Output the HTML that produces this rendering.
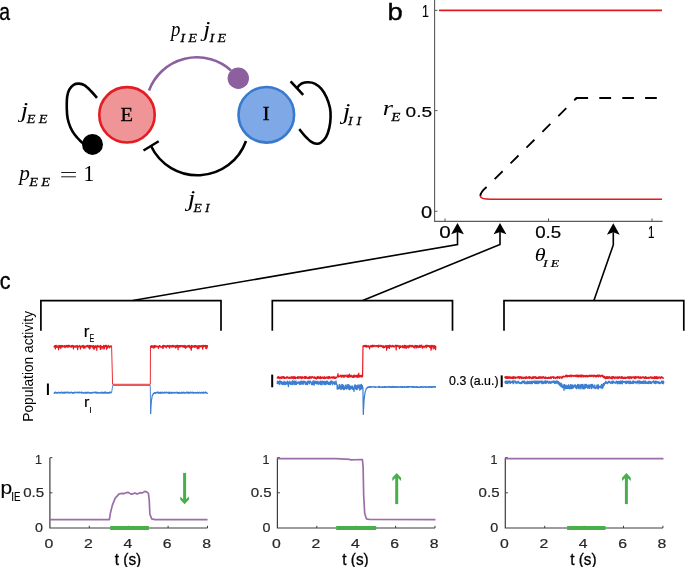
<!DOCTYPE html>
<html><head><meta charset="utf-8"><style>
html,body{margin:0;padding:0;background:#fff;}
svg{display:block;}


</style></head><body>
<svg style="will-change:transform" width="685" height="567" viewBox="0 0 685 567">
<text transform="matrix(0.8082 0 0 0.9736 -0.81 19.66)" style="font-family:'Liberation Sans',sans-serif;font-style:normal;font-size:24px" stroke="#000" stroke-width="0.35">a</text>
<text transform="matrix(1.1442 0 0 1.0197 387.58 20.15)" style="font-family:'Liberation Sans',sans-serif;font-style:normal;font-size:24px" stroke="#000" stroke-width="0.35">b</text>
<text transform="matrix(0.8976 0 0 0.9585 -0.20 289.36)" style="font-family:'Liberation Sans',sans-serif;font-style:normal;font-size:24px" stroke="#000" stroke-width="0.35">c</text>
<circle cx="127" cy="114.8" r="27.7" fill="#ef9597" stroke="#e31d23" stroke-width="2.6"/>
<circle cx="266.3" cy="114.8" r="27.8" fill="#7fa8e6" stroke="#3a7acd" stroke-width="2.6"/>
<text transform="matrix(1.1368 0 0 1.0298 120.43 120.70)" style="font-family:'Liberation Serif',serif;font-style:normal;font-size:18px" stroke="#000" stroke-width="0.25">E</text>
<text transform="matrix(1.2000 0 0 1.0128 262.50 119.80)" style="font-family:'Liberation Serif',serif;font-style:normal;font-size:18px" stroke="#000" stroke-width="0.25">I</text>
<path d="M149,90.5 A51,51 0 0 1 231,70.5" fill="none" stroke="#8c5f9f" stroke-width="2.6"/>
<circle cx="238.3" cy="78.2" r="10.7" fill="#8c5f9f"/>
<path d="M97.00,97.80 C95.98,96.67 92.95,93.07 90.90,91.00 C88.85,88.93 86.67,86.63 84.70,85.40 C82.73,84.17 80.95,83.70 79.10,83.60 C77.25,83.50 75.23,83.78 73.60,84.80 C71.97,85.82 70.37,87.75 69.30,89.70 C68.23,91.65 67.62,93.30 67.20,96.50 C66.78,99.70 66.72,105.20 66.80,108.90 C66.88,112.60 67.08,115.62 67.70,118.70 C68.32,121.78 69.32,124.72 70.50,127.40 C71.68,130.08 73.15,132.53 74.80,134.80 C76.45,137.07 78.87,139.47 80.40,141.00 C81.93,142.53 83.40,143.50 84.00,144.00" fill="none" stroke="#000" stroke-width="2.6"/>
<circle cx="92.5" cy="144.4" r="10.5" fill="#000"/>
<path d="M297.20,88.00 C297.48,87.60 298.07,86.40 298.90,85.60 C299.73,84.80 300.67,83.75 302.20,83.20 C303.73,82.65 306.02,82.23 308.10,82.30 C310.18,82.37 312.48,82.50 314.70,83.60 C316.92,84.70 319.42,86.58 321.40,88.90 C323.38,91.22 325.17,94.32 326.60,97.50 C328.03,100.68 329.33,104.70 330.00,108.00 C330.67,111.30 330.72,113.98 330.60,117.30 C330.48,120.62 330.07,124.60 329.30,127.90 C328.53,131.20 327.43,134.63 326.00,137.10 C324.57,139.57 322.25,141.60 320.70,142.70 C319.15,143.80 318.25,143.85 316.70,143.70 C315.15,143.55 313.38,143.12 311.40,141.80 C309.42,140.48 306.82,137.90 304.80,135.80 C302.78,133.70 300.22,130.30 299.30,129.20" fill="none" stroke="#000" stroke-width="2.6"/>
<path d="M290.6,81.3 L303.2,94.8" fill="none" stroke="#000" stroke-width="2.6"/>
<path d="M151,146 A51.5,51.5 0 0 0 246,141" fill="none" stroke="#000" stroke-width="2.6"/>
<path d="M143.5,150.5 L158.7,141.3" fill="none" stroke="#000" stroke-width="2.5"/>
<path d="M61.6,172.5 H75.5 M61.6,176.8 H75.5" stroke="#111" stroke-width="0.95" stroke-linecap="round"/>
<text transform="matrix(1.1515 0 0 0.9481 20.68 117.26)" style="font-family:'Liberation Serif',serif;font-style:italic;font-size:23px">j</text>
<text transform="matrix(1.2358 0 0 1.0267 26.81 123.00)" style="font-family:'Liberation Serif',serif;font-style:italic;font-size:11.5px;letter-spacing:2.6px" stroke="#000" stroke-width="0.25">EE</text>
<text transform="matrix(0.9250 0 0 0.9270 19.36 180.17)" style="font-family:'Liberation Serif',serif;font-style:italic;font-size:23px">p</text>
<text transform="matrix(1.2537 0 0 1.0400 29.31 185.90)" style="font-family:'Liberation Serif',serif;font-style:italic;font-size:11.5px;letter-spacing:2.6px" stroke="#000" stroke-width="0.25">EE</text>
<text transform="matrix(0.9697 0 0 1.0033 83.16 180.90)" style="font-family:'Liberation Serif',serif;font-style:normal;font-size:23px">1</text>
<text transform="matrix(0.8167 0 0 0.9333 170.92 35.53)" style="font-family:'Liberation Serif',serif;font-style:italic;font-size:23px">p</text>
<text transform="matrix(1.2528 0 0 1.0533 180.20 41.50)" style="font-family:'Liberation Serif',serif;font-style:italic;font-size:11.5px;letter-spacing:2.6px" stroke="#000" stroke-width="0.25">IE</text>
<text transform="matrix(1.0909 0 0 0.9333 203.33 35.53)" style="font-family:'Liberation Serif',serif;font-style:italic;font-size:23px">j</text>
<text transform="matrix(1.2151 0 0 1.0533 209.60 41.50)" style="font-family:'Liberation Serif',serif;font-style:italic;font-size:11.5px;letter-spacing:2.6px" stroke="#000" stroke-width="0.25">IE</text>
<text transform="matrix(1.1879 0 0 0.9630 342.87 118.99)" style="font-family:'Liberation Serif',serif;font-style:italic;font-size:23px">j</text>
<text transform="matrix(1.2000 0 0 1.1200 348.10 125.40)" style="font-family:'Liberation Serif',serif;font-style:italic;font-size:11.5px;letter-spacing:3.2px" stroke="#000" stroke-width="0.25">II</text>
<text transform="matrix(1.1758 0 0 0.9630 187.84 206.39)" style="font-family:'Liberation Serif',serif;font-style:italic;font-size:23px">j</text>
<text transform="matrix(1.1930 0 0 1.1200 193.40 212.40)" style="font-family:'Liberation Serif',serif;font-style:italic;font-size:11.5px;letter-spacing:2.6px" stroke="#000" stroke-width="0.25">EI</text>
<path d="M434.6,0 V221.4 H662.6" fill="none" stroke="#5a5a5a" stroke-width="1.1"/>
<path d="M434.6,10.4 H437.5" stroke="#5a5a5a" stroke-width="1"/>
<path d="M434.6,110.6 H437.5" stroke="#5a5a5a" stroke-width="1"/>
<path d="M434.6,211.3 H437.5" stroke="#5a5a5a" stroke-width="1"/>
<path d="M445,221.4 V218.4" stroke="#5a5a5a" stroke-width="1"/>
<path d="M548.5,221.4 V218.4" stroke="#5a5a5a" stroke-width="1"/>
<path d="M652,221.4 V218.4" stroke="#5a5a5a" stroke-width="1"/>
<text transform="matrix(0.7714 0 0 1.0364 421.94 16.90)" style="font-family:'Liberation Sans',sans-serif;font-style:normal;font-size:16px" stroke="#000" stroke-width="0.2">1</text>
<text transform="matrix(1.1905 0 0 0.9652 405.60 117.16)" style="font-family:'Liberation Sans',sans-serif;font-style:normal;font-size:16px" stroke="#000" stroke-width="0.2">0.5</text>
<text transform="matrix(1.2516 0 0 0.9913 421.07 217.85)" style="font-family:'Liberation Sans',sans-serif;font-style:normal;font-size:16px" stroke="#000" stroke-width="0.2">0</text>
<text transform="matrix(1.2903 0 0 1.0000 439.15 238.25)" style="font-family:'Liberation Sans',sans-serif;font-style:normal;font-size:16px" stroke="#000" stroke-width="0.2">0</text>
<text transform="matrix(1.1714 0 0 1.0087 535.21 238.15)" style="font-family:'Liberation Sans',sans-serif;font-style:normal;font-size:16px" stroke="#000" stroke-width="0.2">0.5</text>
<text transform="matrix(0.7286 0 0 1.0182 647.99 238.00)" style="font-family:'Liberation Sans',sans-serif;font-style:normal;font-size:16px" stroke="#000" stroke-width="0.2">1</text>
<text transform="matrix(1.3778 0 0 1.0778 382.67 115.20)" style="font-family:'Liberation Serif',serif;font-style:italic;font-size:19px">r</text>
<text transform="matrix(1.3000 0 0 1.0267 391.32 120.70)" style="font-family:'Liberation Serif',serif;font-style:italic;font-size:11.5px" stroke="#000" stroke-width="0.25">E</text>
<text transform="matrix(1.1625 0 0 1.0370 534.64 261.44)" style="font-family:'Liberation Serif',serif;font-style:italic;font-size:19px">θ</text>
<text transform="matrix(1.2392 0 0 0.9517 543.00 266.70)" style="font-family:'Liberation Serif',serif;font-style:italic;font-size:11px;letter-spacing:2.6px" stroke="#000" stroke-width="0.25">IE</text>
<path d="M439,10.4 H662" stroke="#e2191f" stroke-width="1.6"/>
<path d="M480.3,195.9 C480.3,198.3 483.5,199.2 491,199.2 H662" fill="none" stroke="#e2191f" stroke-width="1.6"/>
<path d="M480.3,195.9 C480.6,192.5 483.5,189.5 487,186.7 L576.6,98" fill="none" stroke="#000" stroke-width="1.8" stroke-dasharray="11.2 11.2"/>
<path d="M574.9,99.6 L576.6,98 H588.1 M599.3,98 H611.1 M622.3,98 H633.9 M645.1,98 H656.8" fill="none" stroke="#000" stroke-width="1.8"/>
<path d="M457.5,231.9 V244.5 L132.7,300.5" fill="none" stroke="#000" stroke-width="1.6" stroke-linejoin="miter"/><path d="M457.5,222.9 L463.9,234.3 L457.5,231.9 L451.1,234.3 Z" fill="#000"/>
<path d="M500,231.9 V244.5 L362.7,300.5" fill="none" stroke="#000" stroke-width="1.6" stroke-linejoin="miter"/><path d="M500,222.9 L506.4,234.3 L500,231.9 L493.6,234.3 Z" fill="#000"/>
<path d="M613.3,232.3 V244.9 L593.9,300.5" fill="none" stroke="#000" stroke-width="1.6" stroke-linejoin="miter"/><path d="M613.3,223.3 L619.6999999999999,234.70000000000002 L613.3,232.3 L606.9,234.70000000000002 Z" fill="#000"/>
<path d="M40.9,330.8 V300.6 H221 V330.8" fill="none" stroke="#000" stroke-width="1.7"/>
<path d="M272.3,330.8 V300.6 H452.5 V330.8" fill="none" stroke="#000" stroke-width="1.7"/>
<path d="M504,330.8 V300.6 H683.8 V330.8" fill="none" stroke="#000" stroke-width="1.7"/>
<text transform="translate(33,421.69) rotate(-90) scale(0.9481,0.9926)" style="font-family:'Liberation Sans',sans-serif;font-size:14.5px">Population activity</text>
<path d="M54.0,392.7 54.2,393.2 54.4,392.5 54.6,392.5 54.8,393.3 55.0,392.8 55.2,392.1 55.4,392.6 55.6,392.9 55.8,392.2 56.0,392.5 56.2,392.9 56.4,393.1 56.6,392.8 56.8,393.2 57.0,392.7 57.2,392.6 57.4,393.1 57.6,392.6 57.8,393.0 58.0,392.4 58.2,392.5 58.4,392.3 58.6,392.8 58.8,392.3 59.0,392.3 59.2,392.4 59.4,392.7 59.6,392.5 59.8,392.6 60.0,393.3 60.2,392.9 60.4,393.1 60.6,392.3 60.8,392.6 61.0,392.2 61.2,392.9 61.4,392.5 61.6,392.4 61.8,392.1 62.0,392.3 62.2,392.4 62.4,392.6 62.6,393.2 62.8,393.0 63.0,392.4 63.2,392.5 63.4,392.3 63.6,393.2 63.8,392.5 64.0,393.0 64.2,393.0 64.4,393.2 64.6,392.1 64.8,392.5 65.0,392.6 65.2,392.2 65.4,393.2 65.6,392.5 65.8,393.0 66.0,392.7 66.2,392.2 66.4,392.6 66.6,392.4 66.8,392.1 67.0,392.3 67.2,392.8 67.4,392.1 67.6,392.5 67.8,392.6 68.0,392.8 68.2,392.3 68.4,392.9 68.6,392.4 68.8,393.0 69.0,392.9 69.2,392.3 69.4,392.3 69.6,392.4 69.8,393.0 70.0,392.6 70.2,392.6 70.4,393.1 70.6,392.4 70.8,392.5 71.0,392.5 71.2,392.4 71.4,392.1 71.6,392.1 71.8,392.9 72.0,392.8 72.2,393.1 72.4,393.3 72.6,392.5 72.8,392.9 73.0,393.2 73.2,392.4 73.4,392.9 73.6,392.9 73.8,393.2 74.0,393.1 74.2,392.4 74.4,392.9 74.6,392.2 74.8,392.6 75.0,392.6 75.2,392.2 75.4,392.6 75.6,392.5 75.8,392.7 76.0,392.4 76.2,392.3 76.4,392.6 76.6,392.7 76.8,392.3 77.0,392.9 77.2,392.4 77.4,392.2 77.6,392.5 77.8,392.6 78.0,392.3 78.2,392.8 78.4,392.9 78.6,392.8 78.8,392.9 79.0,392.1 79.2,392.6 79.4,392.5 79.6,392.2 79.8,392.6 80.0,392.2 80.2,392.7 80.4,392.8 80.6,392.7 80.8,392.5 81.0,392.4 81.2,392.1 81.4,392.5 81.6,393.2 81.8,392.8 82.0,392.4 82.2,392.9 82.4,392.3 82.6,392.7 82.8,392.8 83.0,393.2 83.2,392.5 83.4,392.8 83.6,393.2 83.8,393.0 84.0,392.9 84.2,392.8 84.4,392.6 84.6,392.6 84.8,392.4 85.0,393.1 85.2,393.2 85.4,392.6 85.6,393.2 85.8,392.1 86.0,392.3 86.2,392.7 86.4,392.5 86.6,392.5 86.8,393.3 87.0,392.3 87.2,392.3 87.4,392.4 87.6,392.9 87.8,392.4 88.0,392.1 88.2,392.8 88.4,392.6 88.6,392.4 88.8,392.7 89.0,392.9 89.2,392.8 89.4,392.8 89.6,392.8 89.8,393.1 90.0,393.3 90.2,392.5 90.4,392.5 90.6,393.2 90.8,392.5 91.0,393.0 91.2,392.9 91.4,392.9 91.6,393.3 91.8,393.1 92.0,392.3 92.2,392.8 92.4,392.7 92.6,392.8 92.8,392.5 93.0,392.4 93.2,393.0 93.4,392.7 93.6,392.4 93.8,392.4 94.0,392.5 94.2,392.3 94.4,392.7 94.6,392.3 94.8,392.2 95.0,392.2 95.2,392.2 95.4,392.9 95.6,392.2 95.8,392.6 96.0,393.0 96.2,392.7 96.4,392.3 96.6,393.1 96.8,393.1 97.0,392.2 97.2,392.4 97.4,392.7 97.6,393.1 97.8,392.6 98.0,393.0 98.2,392.4 98.4,393.0 98.6,392.5 98.8,392.5 99.0,393.0 99.2,393.1 99.4,393.1 99.6,392.8 99.8,392.6 100.0,392.9 100.2,392.8 100.4,393.1 100.6,393.1 100.8,392.3 101.0,392.6 101.2,392.9 101.4,392.4 101.6,392.3 101.8,392.1 102.0,392.8 102.2,393.2 102.4,393.3 102.6,392.3 102.8,392.9 103.0,392.6 103.2,392.9 103.4,392.6 103.6,393.2 103.8,393.3 104.0,392.2 104.2,393.0 104.4,392.2 104.6,392.2 104.8,392.4 105.0,393.0 105.2,393.3 105.4,392.2 105.6,392.5 105.8,392.1 106.0,392.8 106.2,392.7 106.4,392.5 106.6,392.5 106.8,393.1 107.0,393.1 107.2,392.4 107.4,392.6 107.6,392.8 107.8,393.0 108.0,393.3 108.2,392.6 108.4,392.9 108.6,392.8 108.8,393.1 109.0,392.3 109.2,392.3 109.4,392.2 109.6,393.2 109.8,392.4 110.0,392.7 110.2,392.2 110.4,392.5 110.6,392.1 110.8,392.8 111.0,392.3 111.2,392.9 111.4,392.4 111.6,392.4" fill="none" stroke="#3b7dd0" stroke-width="1.2" stroke-linejoin="round" />
<path d="M111.6,392.7 112.7,385.5 150.3,385.5 150.6,414.0" fill="none" stroke="#3b7dd0" stroke-width="0.9" stroke-linejoin="round" />
<path d="M150.6,414.0 150.8,409.7 151.0,406.2 151.2,403.3 151.4,400.9 151.6,399.2 151.8,398.8 152.0,397.0 152.2,395.8 152.4,395.2 152.6,395.0 152.8,395.1 153.0,393.8 153.2,394.3 153.4,393.6 153.6,393.4 153.8,393.7 154.0,393.1 154.2,392.6 154.4,393.1 154.6,393.1 154.8,393.0 155.0,392.6 155.2,393.4 155.4,393.2 155.6,393.4 155.8,392.7 156.0,393.2 156.2,393.0 156.4,392.3 156.6,392.2 156.8,392.3 157.0,392.3 157.2,392.2 157.4,392.5 157.6,393.0 157.8,392.5 158.0,392.7 158.2,392.1 158.4,392.4 158.6,393.3 158.8,392.1 159.0,392.7 159.2,393.1 159.4,393.1 159.6,393.0 159.8,392.6 160.0,393.1 160.2,393.1 160.4,393.0 160.6,393.3 160.8,392.2 161.0,393.2 161.2,392.6 161.4,392.9 161.6,392.4 161.8,393.2 162.0,392.1 162.2,392.8 162.4,392.4 162.6,392.6 162.8,392.5 163.0,392.9 163.2,393.1 163.4,392.5 163.6,392.9 163.8,392.5 164.0,392.4 164.2,393.2 164.4,392.5 164.6,392.2 164.8,392.5 165.0,393.0 165.2,392.4 165.4,393.0 165.6,392.8 165.8,392.9 166.0,392.3 166.2,392.2 166.4,392.3 166.6,392.5 166.8,392.6 167.0,392.1 167.2,392.7 167.4,392.6 167.6,392.5 167.8,392.7 168.0,393.2 168.2,392.3 168.4,393.2 168.6,392.5 168.8,393.0 169.0,392.2 169.2,393.3 169.4,392.6 169.6,393.3 169.8,392.4 170.0,392.6 170.2,392.9 170.4,392.3 170.6,392.4 170.8,392.9 171.0,393.2 171.2,392.5 171.4,392.3 171.6,392.5 171.8,393.3 172.0,392.3 172.2,392.9 172.4,392.6 172.6,392.9 172.8,392.4 173.0,392.8 173.2,393.2 173.4,393.1 173.6,392.9 173.8,392.7 174.0,392.8 174.2,392.2 174.4,393.1 174.6,392.9 174.8,392.6 175.0,392.9 175.2,392.6 175.4,392.6 175.6,392.4 175.8,392.8 176.0,392.8 176.2,392.7 176.4,392.1 176.6,392.9 176.8,392.6 177.0,392.8 177.2,392.8 177.4,393.2 177.6,392.3 177.8,392.7 178.0,393.3 178.2,393.0 178.4,392.5 178.6,393.0 178.8,393.3 179.0,392.6 179.2,393.1 179.4,392.3 179.6,393.3 179.8,392.7 180.0,392.4 180.2,393.1 180.4,392.9 180.6,393.2 180.8,393.1 181.0,393.1 181.2,392.7 181.4,393.3 181.6,392.2 181.8,393.1 182.0,393.0 182.2,392.4 182.4,393.1 182.6,392.6 182.8,392.7 183.0,393.1 183.2,392.3 183.4,392.4 183.6,392.9 183.8,392.2 184.0,392.8 184.2,393.0 184.4,392.7 184.6,392.4 184.8,393.1 185.0,393.1 185.2,393.0 185.4,392.8 185.6,393.2 185.8,393.1 186.0,392.3 186.2,392.5 186.4,392.2 186.6,392.1 186.8,392.5 187.0,393.1 187.2,393.1 187.4,392.2 187.6,392.3 187.8,392.6 188.0,393.1 188.2,392.8 188.4,393.2 188.6,392.2 188.8,393.3 189.0,392.3 189.2,392.9 189.4,393.2 189.6,393.0 189.8,392.3 190.0,392.9 190.2,392.6 190.4,392.1 190.6,392.5 190.8,392.5 191.0,392.9 191.2,392.4 191.4,392.8 191.6,392.9 191.8,392.3 192.0,392.3 192.2,392.9 192.4,392.7 192.6,392.3 192.8,392.2 193.0,393.2 193.2,392.8 193.4,392.5 193.6,392.3 193.8,393.3 194.0,392.9 194.2,393.0 194.4,392.5 194.6,392.5 194.8,392.6 195.0,392.3 195.2,392.9 195.4,392.6 195.6,393.1 195.8,392.6 196.0,392.6 196.2,392.7 196.4,393.2 196.6,392.5 196.8,392.9 197.0,392.4 197.2,392.8 197.4,392.4 197.6,393.1 197.8,392.4 198.0,393.1 198.2,392.9 198.4,392.6 198.6,393.2 198.8,392.6 199.0,393.0 199.2,392.8 199.4,392.6 199.6,392.2 199.8,392.6 200.0,392.4 200.2,392.6 200.4,393.2 200.6,392.5 200.8,392.9 201.0,392.9 201.2,392.4 201.4,392.6 201.6,392.3 201.8,393.2 202.0,392.4 202.2,392.6 202.4,392.5 202.6,393.1 202.8,393.1 203.0,392.8 203.2,392.8 203.4,392.2 203.6,393.2 203.8,392.2 204.0,392.5 204.2,392.5 204.4,393.0 204.6,392.9 204.8,392.5 205.0,393.2 205.2,393.2 205.4,392.1 205.6,392.9 205.8,392.7 206.0,392.5 206.2,392.7 206.4,392.5 206.6,392.9 206.8,392.8 207.0,393.3 207.2,393.3 207.4,393.3 207.6,392.6" fill="none" stroke="#3b7dd0" stroke-width="1.2" stroke-linejoin="round" />
<path d="M54.0,346.2 54.2,347.1 54.4,346.3 54.6,345.7 54.8,346.5 55.0,345.5 55.2,345.5 55.4,348.9 55.6,347.1 55.8,346.5 56.0,345.3 56.2,345.4 56.4,347.3 56.6,346.1 56.8,346.3 57.0,346.2 57.2,346.2 57.4,347.2 57.6,346.9 57.8,345.9 58.0,347.8 58.2,346.1 58.4,346.0 58.6,349.8 58.8,347.0 59.0,347.2 59.2,345.4 59.4,346.8 59.6,345.5 59.8,347.1 60.0,345.5 60.2,347.5 60.4,345.6 60.6,346.2 60.8,348.5 61.0,345.5 61.2,345.7 61.4,347.1 61.6,345.9 61.8,345.7 62.0,346.9 62.2,345.5 62.4,345.7 62.6,346.8 62.8,346.8 63.0,346.4 63.2,346.4 63.4,346.2 63.6,346.2 63.8,346.9 64.0,345.6 64.2,346.9 64.4,345.7 64.6,347.1 64.8,347.1 65.0,346.4 65.2,347.7 65.4,345.8 65.6,345.8 65.8,346.4 66.0,345.6 66.2,345.4 66.4,346.4 66.6,346.5 66.8,347.0 67.0,345.3 67.2,347.2 67.4,346.0 67.6,345.5 67.8,347.0 68.0,346.5 68.2,347.3 68.4,345.3 68.6,346.6 68.8,345.3 69.0,346.2 69.2,345.9 69.4,345.4 69.6,346.7 69.8,346.7 70.0,346.8 70.2,346.0 70.4,347.0 70.6,346.1 70.8,346.9 71.0,346.5 71.2,346.4 71.4,345.5 71.6,347.2 71.8,346.7 72.0,346.7 72.2,346.1 72.4,345.5 72.6,345.4 72.8,346.2 73.0,346.6 73.2,346.5 73.4,348.9 73.6,346.6 73.8,345.6 74.0,346.6 74.2,347.0 74.4,346.6 74.6,346.1 74.8,347.0 75.0,346.0 75.2,347.4 75.4,346.9 75.6,346.7 75.8,345.8 76.0,346.2 76.2,345.7 76.4,346.5 76.6,345.9 76.8,347.2 77.0,347.6 77.2,345.4 77.4,346.4 77.6,349.6 77.8,348.2 78.0,346.6 78.2,346.5 78.4,346.5 78.6,346.8 78.8,346.6 79.0,346.2 79.2,345.3 79.4,346.7 79.6,345.8 79.8,346.6 80.0,346.5 80.2,346.0 80.4,349.2 80.6,348.2 80.8,346.5 81.0,346.0 81.2,347.0 81.4,347.1 81.6,346.5 81.8,346.7 82.0,346.5 82.2,345.7 82.4,347.2 82.6,346.3 82.8,345.9 83.0,346.9 83.2,345.5 83.4,346.3 83.6,348.2 83.8,345.4 84.0,345.6 84.2,347.8 84.4,346.3 84.6,346.9 84.8,347.1 85.0,348.2 85.2,346.3 85.4,346.7 85.6,346.3 85.8,346.4 86.0,346.0 86.2,347.0 86.4,346.9 86.6,346.3 86.8,345.7 87.0,346.3 87.2,345.4 87.4,346.3 87.6,346.8 87.8,346.2 88.0,345.4 88.2,346.1 88.4,347.1 88.6,347.6 88.8,346.8 89.0,346.2 89.2,345.7 89.4,349.0 89.6,345.3 89.8,345.7 90.0,345.9 90.2,348.4 90.4,345.5 90.6,345.8 90.8,346.3 91.0,346.0 91.2,346.3 91.4,345.7 91.6,346.5 91.8,346.9 92.0,346.9 92.2,346.7 92.4,347.0 92.6,345.9 92.8,345.7 93.0,348.1 93.2,346.7 93.4,345.5 93.6,346.1 93.8,345.5 94.0,349.5 94.2,346.6 94.4,348.7 94.6,346.7 94.8,346.6 95.0,346.3 95.2,346.3 95.4,347.5 95.6,345.7 95.8,347.2 96.0,347.7 96.2,346.2 96.4,345.9 96.6,346.3 96.8,350.3 97.0,346.9 97.2,346.2 97.4,346.1 97.6,345.6 97.8,345.3 98.0,346.8 98.2,346.9 98.4,346.1 98.6,346.3 98.8,346.8 99.0,347.0 99.2,346.8 99.4,346.1 99.6,347.0 99.8,346.8 100.0,346.1 100.2,345.4 100.4,349.4 100.6,346.5 100.8,345.7 101.0,346.6 101.2,346.6 101.4,346.3 101.6,347.2 101.8,346.6 102.0,348.9 102.2,346.7 102.4,347.2 102.6,347.2 102.8,347.0 103.0,346.3 103.2,346.4 103.4,346.5 103.6,345.4 103.8,348.9 104.0,345.6 104.2,345.6 104.4,348.7 104.6,346.1 104.8,346.4 105.0,345.8 105.2,346.4 105.4,346.7 105.6,345.3 105.8,345.4 106.0,346.7 106.2,347.0 106.4,345.4 106.6,349.3 106.8,346.1 107.0,347.1 107.2,346.3 107.4,346.7 107.6,347.2 107.8,348.2 108.0,346.2 108.2,345.4 108.4,345.5 108.6,346.6 108.8,345.8 109.0,346.1 109.2,346.3 109.4,347.1 109.6,347.9 109.8,346.8 110.0,346.0 110.2,346.6 110.4,346.4 110.6,346.7 110.8,345.8 111.0,347.0 111.2,346.6 111.4,346.1 111.6,345.5" fill="none" stroke="#e2191f" stroke-width="1.2" stroke-linejoin="round" />
<path d="M111.6,346.5 112.6,384.3 150.3,384.3 150.5,346.0" fill="none" stroke="#e2191f" stroke-width="0.9" stroke-linejoin="round" />
<path d="M150.7,347.3 150.9,346.3 151.1,346.0 151.3,345.7 151.5,346.7 151.7,347.5 151.9,346.5 152.1,345.7 152.3,345.8 152.5,346.0 152.7,347.2 152.9,346.3 153.1,347.0 153.3,348.1 153.5,347.1 153.7,346.2 153.9,345.9 154.1,345.4 154.3,347.8 154.5,346.7 154.7,347.2 154.9,346.7 155.1,345.5 155.3,346.4 155.5,347.1 155.7,346.1 155.9,345.9 156.1,346.1 156.3,347.0 156.5,346.0 156.7,346.0 156.9,346.0 157.1,346.4 157.3,346.3 157.5,346.4 157.7,346.7 157.9,347.4 158.1,346.3 158.3,347.1 158.5,348.4 158.7,347.7 158.9,346.7 159.1,345.5 159.3,345.6 159.5,346.5 159.7,345.7 159.9,346.3 160.1,346.0 160.3,347.1 160.5,346.2 160.7,346.7 160.9,347.0 161.1,346.9 161.3,346.9 161.5,346.9 161.7,347.1 161.9,346.3 162.1,346.8 162.3,348.0 162.5,347.2 162.7,345.6 162.9,346.1 163.1,348.4 163.3,345.5 163.5,346.8 163.7,345.4 163.9,346.4 164.1,346.4 164.3,345.7 164.5,346.7 164.7,345.7 164.9,345.8 165.1,346.7 165.3,346.3 165.5,346.2 165.7,347.0 165.9,345.9 166.1,347.1 166.3,347.9 166.5,346.8 166.7,346.3 166.9,345.8 167.1,346.5 167.3,345.3 167.5,346.0 167.7,346.7 167.9,345.6 168.1,345.9 168.3,347.0 168.5,346.5 168.7,345.8 168.9,345.6 169.1,345.3 169.3,346.9 169.5,345.5 169.7,348.2 169.9,346.2 170.1,346.4 170.3,345.9 170.5,346.1 170.7,345.5 170.9,345.7 171.1,346.3 171.3,346.9 171.5,347.1 171.7,346.2 171.9,346.0 172.1,345.5 172.3,346.2 172.5,346.9 172.7,345.3 172.9,346.6 173.1,346.4 173.3,345.3 173.5,346.8 173.7,346.5 173.9,346.0 174.1,345.9 174.3,346.0 174.5,345.8 174.7,346.7 174.9,347.1 175.1,346.7 175.3,347.9 175.5,345.5 175.7,346.6 175.9,346.1 176.1,347.6 176.3,347.0 176.5,345.4 176.7,346.1 176.9,346.5 177.1,346.9 177.3,345.9 177.5,345.3 177.7,346.6 177.9,346.8 178.1,349.6 178.3,346.0 178.5,345.5 178.7,346.3 178.9,346.9 179.1,345.6 179.3,347.0 179.5,346.0 179.7,345.6 179.9,347.2 180.1,346.7 180.3,345.7 180.5,346.5 180.7,345.5 180.9,346.4 181.1,345.9 181.3,346.0 181.5,345.5 181.7,345.6 181.9,346.3 182.1,346.4 182.3,347.0 182.5,346.9 182.7,345.5 182.9,345.8 183.1,345.8 183.3,346.9 183.5,347.2 183.7,345.6 183.9,347.1 184.1,345.9 184.3,346.7 184.5,346.4 184.7,345.3 184.9,347.6 185.1,346.4 185.3,346.3 185.5,346.4 185.7,348.3 185.9,345.6 186.1,346.4 186.3,346.1 186.5,346.6 186.7,346.7 186.9,347.2 187.1,346.9 187.3,346.1 187.5,347.0 187.7,346.3 187.9,347.0 188.1,345.4 188.3,347.0 188.5,346.4 188.7,345.9 188.9,346.9 189.1,346.3 189.3,345.4 189.5,346.3 189.7,345.9 189.9,347.9 190.1,347.1 190.3,346.9 190.5,346.8 190.7,346.7 190.9,349.0 191.1,345.5 191.3,350.1 191.5,345.9 191.7,345.4 191.9,346.8 192.1,346.0 192.3,347.5 192.5,345.9 192.7,347.1 192.9,346.2 193.1,345.9 193.3,347.0 193.5,346.9 193.7,346.2 193.9,347.0 194.1,345.7 194.3,345.7 194.5,347.3 194.7,345.9 194.9,347.0 195.1,345.6 195.3,347.1 195.5,345.5 195.7,345.9 195.9,345.7 196.1,345.7 196.3,346.8 196.5,346.6 196.7,346.4 196.9,345.9 197.1,346.6 197.3,348.8 197.5,346.1 197.7,348.0 197.9,345.8 198.1,348.1 198.3,346.7 198.5,345.8 198.7,345.7 198.9,348.7 199.1,346.7 199.3,347.1 199.5,345.6 199.7,346.5 199.9,346.6 200.1,346.3 200.3,346.9 200.5,346.3 200.7,345.6 200.9,345.6 201.1,345.7 201.3,346.8 201.5,346.8 201.7,346.2 201.9,346.4 202.1,345.4 202.3,346.7 202.5,347.0 202.7,349.1 202.9,346.1 203.1,345.8 203.3,345.4 203.5,346.4 203.7,346.8 203.9,345.6 204.1,345.4 204.3,346.5 204.5,345.8 204.7,345.5 204.9,345.6 205.1,345.6 205.3,346.9 205.5,345.4 205.7,346.0 205.9,348.7 206.1,346.7 206.3,345.6 206.5,347.9 206.7,348.4 206.9,345.9 207.1,347.7 207.3,346.8 207.5,345.7 207.7,346.3" fill="none" stroke="#e2191f" stroke-width="1.2" stroke-linejoin="round" />
<path d="M47.9,383.5 V395" stroke="#000" stroke-width="2"/>
<text transform="matrix(1.0750 0 0 1.0057 83.83 336.60)" style="font-family:'Liberation Sans',sans-serif;font-style:normal;font-size:16px" stroke="#000" stroke-width="0.15">r</text>
<text transform="matrix(0.7429 0 0 1.0923 89.44 342.30)" style="font-family:'Liberation Sans',sans-serif;font-style:normal;font-size:9.5px" stroke="#000" stroke-width="0.15">E</text>
<text transform="matrix(1.0250 0 0 0.9371 83.88 406.60)" style="font-family:'Liberation Sans',sans-serif;font-style:normal;font-size:16px" stroke="#000" stroke-width="0.15">r</text>
<text transform="matrix(0.9000 0 0 1.0308 89.32 412.50)" style="font-family:'Liberation Sans',sans-serif;font-style:normal;font-size:9.5px" stroke="#000" stroke-width="0.15">I</text>
<path d="M277.0,384.1 277.2,383.6 277.4,381.1 277.6,382.4 277.8,381.7 278.0,381.6 278.2,381.4 278.4,383.8 278.6,381.5 278.8,383.3 279.0,381.8 279.2,383.7 279.4,381.3 279.6,380.9 279.8,384.6 280.0,380.9 280.2,382.9 280.4,381.2 280.6,382.0 280.8,381.3 281.0,381.3 281.2,382.8 281.4,383.9 281.6,382.5 281.8,381.7 282.0,383.0 282.2,384.2 282.4,384.2 282.6,384.7 282.8,382.4 283.0,384.3 283.2,383.7 283.4,384.1 283.6,383.7 283.8,382.9 284.0,381.2 284.2,384.7 284.4,384.2 284.6,382.5 284.8,381.8 285.0,384.5 285.2,382.8 285.4,384.3 285.6,383.1 285.8,384.4 286.0,382.0 286.2,381.8 286.4,382.5 286.6,382.2 286.8,382.6 287.0,384.1 287.2,382.9 287.4,382.4 287.6,381.2 287.8,382.1 288.0,381.7 288.2,384.4 288.4,386.6 288.6,384.6 288.8,383.2 289.0,382.0 289.2,383.2 289.4,382.8 289.6,383.8 289.8,381.2 290.0,381.9 290.2,382.5 290.4,382.4 290.6,383.5 290.8,384.7 291.0,382.1 291.2,384.1 291.4,383.4 291.6,383.9 291.8,383.3 292.0,384.5 292.2,380.9 292.4,383.8 292.6,380.8 292.8,382.5 293.0,384.7 293.2,381.1 293.4,382.6 293.6,382.3 293.8,382.5 294.0,382.1 294.2,381.1 294.4,384.1 294.6,383.0 294.8,381.3 295.0,384.6 295.2,384.5 295.4,382.5 295.6,384.2 295.8,384.3 296.0,380.9 296.2,382.3 296.4,384.5 296.6,383.6 296.8,383.9 297.0,383.8 297.2,383.1 297.4,382.2 297.6,382.2 297.8,382.9 298.0,383.1 298.2,382.2 298.4,382.7 298.6,382.1 298.8,381.7 299.0,383.7 299.2,381.8 299.4,384.1 299.6,383.7 299.8,383.3 300.0,384.7 300.2,382.6 300.4,381.7 300.6,381.2 300.8,384.2 301.0,383.6 301.2,383.0 301.4,381.4 301.6,383.9 301.8,381.2 302.0,381.7 302.2,382.9 302.4,381.3 302.6,383.1 302.8,384.5 303.0,382.3 303.2,383.7 303.4,384.2 303.6,381.9 303.8,380.9 304.0,381.8 304.2,381.8 304.4,382.7 304.6,381.9 304.8,382.8 305.0,381.4 305.2,384.2 305.4,383.0 305.6,382.9 305.8,384.5 306.0,381.8 306.2,384.5 306.4,383.9 306.6,382.6 306.8,383.7 307.0,382.8 307.2,382.2 307.4,384.6 307.6,384.6 307.8,381.1 308.0,381.2 308.2,381.3 308.4,382.0 308.6,381.0 308.8,381.1 309.0,383.1 309.2,383.5 309.4,383.9 309.6,381.1 309.8,381.5 310.0,382.2 310.2,381.6 310.4,382.5 310.6,381.1 310.8,383.0 311.0,383.0 311.2,382.0 311.4,383.6 311.6,384.7 311.8,384.5 312.0,384.5 312.2,382.8 312.4,383.5 312.6,383.3 312.8,381.1 313.0,384.6 313.2,381.2 313.4,384.6 313.6,380.9 313.8,383.6 314.0,383.1 314.2,385.1 314.4,384.0 314.6,384.1 314.8,382.1 315.0,380.9 315.2,381.8 315.4,382.9 315.6,383.5 315.8,381.7 316.0,381.5 316.2,381.8 316.4,383.9 316.6,381.8 316.8,381.8 317.0,381.8 317.2,381.5 317.4,382.0 317.6,383.7 317.8,384.0 318.0,381.1 318.2,381.8 318.4,382.5 318.6,382.3 318.8,384.4 319.0,382.3 319.2,384.0 319.4,382.2 319.6,382.3 319.8,383.2 320.0,382.7 320.2,380.9 320.4,382.3 320.6,384.5 320.8,381.6 321.0,384.6 321.2,382.2 321.4,381.4 321.6,384.6 321.8,381.3 322.0,384.3 322.2,384.6 322.4,382.3 322.6,381.9 322.8,381.1 323.0,382.2 323.2,382.0 323.4,381.3 323.6,383.0 323.8,383.8 324.0,384.6 324.2,381.7 324.4,382.0 324.6,384.5 324.8,381.4 325.0,383.1 325.2,384.0 325.4,382.6 325.6,384.2 325.8,381.6 326.0,384.7 326.2,383.9 326.4,381.0 326.6,381.5 326.8,383.0 327.0,384.0 327.2,383.4 327.4,383.0 327.6,381.0 327.8,383.3 328.0,382.7 328.2,382.1 328.4,384.3 328.6,382.5 328.8,382.6 329.0,384.5 329.2,384.5 329.4,384.3 329.6,382.8 329.8,382.0 330.0,383.7 330.2,383.1 330.4,384.6 330.6,381.2 330.8,382.2 331.0,382.8 331.2,382.9 331.4,380.8 331.6,381.9 331.8,383.3 332.0,381.2 332.2,382.7 332.4,384.7 332.6,382.6 332.8,384.0 333.0,384.1 333.2,381.8 333.4,382.8 333.6,383.0 333.8,382.8 334.0,382.0 334.2,382.8 334.4,381.6 334.6,384.1 334.8,384.7 335.0,383.5 335.2,383.6 335.4,384.0 335.6,384.1 335.8,381.8 336.0,380.9 336.2,382.2 336.4,383.2 336.6,384.5 336.8,384.6 337.0,384.8 337.2,389.1 337.4,385.2 337.6,388.4 337.8,387.7 338.0,388.3 338.2,389.1 338.4,388.6 338.6,387.4 338.8,387.8 339.0,386.4 339.2,384.3 339.4,388.7 339.6,387.9 339.8,388.1 340.0,386.0 340.2,385.2 340.4,388.0 340.6,386.1 340.8,389.3 341.0,389.5 341.2,389.6 341.4,386.1 341.6,387.1 341.8,384.4 342.0,387.2 342.2,388.4 342.4,385.3 342.6,385.6 342.8,384.6 343.0,386.2 343.2,389.5 343.4,386.5 343.6,385.5 343.8,389.6 344.0,386.6 344.2,388.5 344.4,387.8 344.6,389.3 344.8,387.2 345.0,387.2 345.2,388.5 345.4,385.0 345.6,385.7 345.8,388.3 346.0,388.5 346.2,388.2 346.4,386.6 346.6,386.9 346.8,389.2 347.0,384.6 347.2,388.1 347.4,384.9 347.6,387.4 347.8,386.5 348.0,388.0 348.2,384.5 348.4,384.9 348.6,389.1 348.8,386.4 349.0,384.8 349.2,389.0 349.4,387.5 349.6,389.7 349.8,385.9 350.0,389.0 350.2,386.5 350.4,389.2 350.6,388.6 350.8,386.7 351.0,386.6 351.2,386.0 351.4,386.5 351.6,388.5 351.8,386.9 352.0,386.7 352.2,389.2 352.4,388.6 352.6,388.0 352.8,385.9 353.0,389.5 353.2,387.9 353.4,387.9 353.6,388.5 353.8,389.7 354.0,391.4 354.2,388.5 354.4,387.6 354.6,386.4 354.8,385.3 355.0,384.5 355.2,388.8 355.4,386.4 355.6,388.2 355.8,388.4 356.0,385.6 356.2,387.3 356.4,389.7 356.6,388.6 356.8,388.3 357.0,385.7 357.2,387.2 357.4,385.1 357.6,389.2 357.8,385.8 358.0,386.6 358.2,387.6 358.4,387.2 358.6,387.4 358.8,386.2 359.0,384.6 359.2,388.1 359.4,388.8 359.6,385.7 359.8,390.3 360.0,387.9 360.2,385.9 360.4,389.4 360.6,385.2 360.8,384.7 361.0,388.3 361.2,386.9 361.4,384.4 361.6,389.0 361.8,388.1 362.0,386.1 362.2,385.4 362.4,386.0 362.6,388.7 362.9,387.0 363.3,414.5 363.5,410.0 363.7,406.6 363.9,402.7 364.1,400.0 364.3,398.2 364.5,395.9 364.7,395.2 364.9,393.3 365.1,392.3 365.3,391.4 365.5,391.0 365.7,390.5 365.9,389.8 366.1,388.8 366.3,388.7 366.5,388.7 366.7,388.0 366.9,388.4 367.1,388.2 367.3,387.5 367.5,387.5 367.7,387.2 367.9,387.6 368.1,386.9 368.3,387.5 368.5,386.8 368.7,387.5 368.9,387.2 369.1,387.2 369.3,386.7 369.5,386.6 369.7,386.9 369.9,387.6 370.1,387.2 370.3,387.4 370.5,386.6 370.7,386.6 370.9,386.5 371.1,387.2 371.3,386.7 371.5,386.8 371.7,387.2 371.9,387.2 372.1,386.8 372.3,387.0 372.5,386.8 372.7,387.1 372.9,386.9 373.1,386.9 373.3,386.8 373.5,386.8 373.7,386.8 373.9,386.5 374.1,386.8 374.3,387.1 374.5,386.8 374.7,386.6 374.9,387.3 375.1,387.0 375.3,387.0 375.5,386.8 375.7,387.4 375.9,387.3 376.1,387.1 376.3,387.2 376.5,387.2 376.7,387.0 376.9,386.9 377.1,386.9 377.3,387.0 377.5,387.0 377.7,387.0 377.9,387.0 378.1,387.3 378.3,387.4 378.5,386.7 378.7,386.5 378.9,386.8 379.1,386.5 379.3,387.3 379.5,387.1 379.7,386.8 379.9,386.7 380.1,387.4 380.3,387.3 380.5,387.2 380.7,387.2 380.9,387.2 381.1,387.0 381.3,386.9 381.5,387.1 381.7,387.4 381.9,387.5 382.1,387.4 382.3,387.3 382.5,386.6 382.7,386.7 382.9,387.5 383.1,387.0 383.3,387.0 383.5,386.8 383.7,387.4 383.9,387.0 384.1,387.5 384.3,386.6 384.5,387.5 384.7,386.5 384.9,386.6 385.1,386.9 385.3,387.1 385.5,386.6 385.7,387.1 385.9,387.4 386.1,386.9 386.3,387.3 386.5,387.1 386.7,387.1 386.9,386.7 387.1,387.0 387.3,387.4 387.5,387.2 387.7,386.7 387.9,386.9 388.1,387.0 388.3,386.8 388.5,387.1 388.7,387.1 388.9,386.5 389.1,386.7 389.3,387.2 389.5,386.7 389.7,386.6 389.9,387.3 390.1,386.8 390.3,387.5 390.5,387.1 390.7,386.6 390.9,387.1 391.1,386.8 391.3,387.3 391.5,387.2 391.7,387.3 391.9,386.6 392.1,386.5 392.3,387.3 392.5,386.6 392.7,386.7 392.9,386.5 393.1,386.7 393.3,387.0 393.5,387.5 393.7,386.8 393.9,386.8 394.1,387.3 394.3,386.7 394.5,387.1 394.7,387.1 394.9,387.4 395.1,386.5 395.3,387.1 395.5,386.9 395.7,387.3 395.9,386.8 396.1,387.2 396.3,386.7 396.5,387.0 396.7,387.5 396.9,386.7 397.1,386.8 397.3,387.4 397.5,387.2 397.7,386.6 397.9,386.7 398.1,386.7 398.3,386.8 398.5,387.3 398.7,387.2 398.9,387.5 399.1,387.2 399.3,387.1 399.5,386.9 399.7,387.2 399.9,387.0 400.1,386.6 400.3,387.0 400.5,386.9 400.7,387.0 400.9,386.5 401.1,386.5 401.3,387.5 401.5,386.9 401.7,386.8 401.9,386.6 402.1,387.1 402.3,387.4 402.5,386.7 402.7,387.0 402.9,387.0 403.1,387.3 403.3,387.1 403.5,386.7 403.7,386.7 403.9,387.2 404.1,386.6 404.3,387.4 404.5,386.5 404.7,386.7 404.9,387.0 405.1,387.3 405.3,387.1 405.5,387.2 405.7,387.3 405.9,387.2 406.1,386.6 406.3,387.3 406.5,386.6 406.7,386.7 406.9,386.5 407.1,386.5 407.3,387.4 407.5,386.9 407.7,386.6 407.9,386.5 408.1,387.3 408.3,387.1 408.5,387.4 408.7,386.5 408.9,386.6 409.1,386.8 409.3,386.7 409.5,386.6 409.7,386.7 409.9,387.1 410.1,386.7 410.3,386.7 410.5,387.0 410.7,386.9 410.9,386.6 411.1,387.1 411.3,387.0 411.5,386.9 411.7,387.0 411.9,386.5 412.1,387.1 412.3,386.7 412.5,386.8 412.7,386.5 412.9,387.4 413.1,387.1 413.3,386.9 413.5,387.0 413.7,387.4 413.9,386.6 414.1,386.9 414.3,387.2 414.5,386.9 414.7,387.2 414.9,387.4 415.1,386.5 415.3,386.8 415.5,386.8 415.7,387.3 415.9,387.3 416.1,387.2 416.3,387.4 416.5,386.7 416.7,386.9 416.9,387.4 417.1,387.3 417.3,386.6 417.5,387.5 417.7,387.2 417.9,387.4 418.1,386.9 418.3,387.1 418.5,387.5 418.7,387.4 418.9,387.1 419.1,387.4 419.3,387.5 419.5,387.3 419.7,387.2 419.9,387.5 420.1,386.6 420.3,386.9 420.5,387.1 420.7,386.6 420.9,387.3 421.1,386.6 421.3,387.1 421.5,386.8 421.7,386.8 421.9,387.1 422.1,386.7 422.3,386.9 422.5,387.4 422.7,387.5 422.9,386.8 423.1,386.9 423.3,387.2 423.5,386.7 423.7,387.3 423.9,386.7 424.1,387.1 424.3,386.8 424.5,386.5 424.7,386.5 424.9,386.5 425.1,386.8 425.3,386.8 425.5,387.5 425.7,387.1 425.9,386.6 426.1,387.2 426.3,386.7 426.5,387.0 426.7,387.2 426.9,387.4 427.1,387.4 427.3,386.9 427.5,386.8 427.7,386.9 427.9,386.8 428.1,387.2 428.3,387.0 428.5,387.2 428.7,386.7 428.9,387.3 429.1,387.5 429.3,386.7 429.5,387.1 429.7,386.7 429.9,386.5 430.1,386.9 430.3,386.7 430.5,387.2 430.7,387.1 430.9,387.2 431.1,387.5 431.3,386.6 431.5,386.6 431.7,386.5 431.9,387.0 432.1,387.3 432.3,387.2 432.5,387.0 432.7,387.4 432.9,386.9 433.1,386.6 433.3,387.1 433.5,386.5 433.7,386.7 433.9,386.5 434.1,386.7 434.3,386.6 434.5,387.0 434.7,386.6 434.9,387.1 435.1,387.3 435.3,386.8 435.5,386.6 435.7,387.2 435.9,387.2" fill="none" stroke="#3b7dd0" stroke-width="1.2" stroke-linejoin="round" />
<path d="M277.0,378.4 277.2,377.8 277.4,378.0 277.6,377.2 277.8,377.9 278.0,376.6 278.2,377.1 278.4,377.6 278.6,376.7 278.8,377.8 279.0,378.6 279.2,377.2 279.4,377.6 279.6,377.4 279.8,377.6 280.0,377.6 280.2,378.6 280.4,377.4 280.6,378.0 280.8,376.9 281.0,377.8 281.2,377.5 281.4,377.3 281.6,378.4 281.8,377.6 282.0,376.9 282.2,378.1 282.4,378.0 282.6,377.5 282.8,376.7 283.0,377.3 283.2,378.2 283.4,376.7 283.6,377.5 283.8,378.2 284.0,376.7 284.2,377.5 284.4,378.4 284.6,377.9 284.8,378.4 285.0,377.8 285.2,378.0 285.4,378.2 285.6,377.6 285.8,377.7 286.0,378.3 286.2,377.7 286.4,376.9 286.6,378.1 286.8,377.4 287.0,378.1 287.2,376.8 287.4,376.9 287.6,377.6 287.8,377.3 288.0,377.0 288.2,377.8 288.4,378.0 288.6,377.8 288.8,377.8 289.0,378.5 289.2,377.9 289.4,377.4 289.6,377.9 289.8,377.3 290.0,378.2 290.2,378.3 290.4,377.9 290.6,377.2 290.8,378.2 291.0,377.2 291.2,376.8 291.4,377.9 291.6,376.8 291.8,378.1 292.0,378.4 292.2,377.5 292.4,377.2 292.6,377.2 292.8,376.7 293.0,378.2 293.2,377.0 293.4,376.8 293.6,378.8 293.8,377.8 294.0,376.7 294.2,377.3 294.4,377.3 294.6,378.3 294.8,376.9 295.0,376.8 295.2,376.8 295.4,377.4 295.6,378.6 295.8,378.4 296.0,378.1 296.2,377.5 296.4,377.9 296.6,377.7 296.8,377.6 297.0,378.0 297.2,378.2 297.4,376.8 297.6,376.7 297.8,378.5 298.0,377.5 298.2,377.7 298.4,378.2 298.6,378.3 298.8,376.6 299.0,376.8 299.2,376.7 299.4,378.1 299.6,377.9 299.8,377.6 300.0,377.5 300.2,378.0 300.4,376.9 300.6,377.7 300.8,376.6 301.0,378.3 301.2,376.9 301.4,378.6 301.6,378.1 301.8,378.5 302.0,376.8 302.2,377.1 302.4,378.4 302.6,376.9 302.8,377.1 303.0,378.0 303.2,377.5 303.4,377.5 303.6,377.5 303.8,378.0 304.0,377.7 304.2,376.7 304.4,377.3 304.6,376.8 304.8,378.5 305.0,376.7 305.2,377.3 305.4,376.9 305.6,378.3 305.8,377.0 306.0,376.6 306.2,377.1 306.4,378.2 306.6,377.0 306.8,378.1 307.0,377.2 307.2,377.3 307.4,378.2 307.6,378.2 307.8,377.8 308.0,378.5 308.2,378.6 308.4,378.2 308.6,377.2 308.8,378.3 309.0,377.0 309.2,378.3 309.4,376.7 309.6,377.2 309.8,378.5 310.0,378.2 310.2,377.1 310.4,377.3 310.6,376.7 310.8,377.4 311.0,377.4 311.2,378.4 311.4,377.3 311.6,377.4 311.8,376.7 312.0,377.2 312.2,376.7 312.4,376.6 312.6,377.3 312.8,377.7 313.0,376.8 313.2,377.7 313.4,377.3 313.6,377.6 313.8,378.3 314.0,378.1 314.2,377.5 314.4,377.8 314.6,378.2 314.8,376.7 315.0,377.8 315.2,378.4 315.4,377.6 315.6,378.5 315.8,377.7 316.0,378.1 316.2,378.1 316.4,379.1 316.6,378.1 316.8,378.2 317.0,376.8 317.2,378.1 317.4,378.5 317.6,376.7 317.8,377.3 318.0,378.4 318.2,376.8 318.4,377.1 318.6,376.8 318.8,377.4 319.0,377.5 319.2,378.5 319.4,378.4 319.6,377.1 319.8,377.5 320.0,377.8 320.2,378.6 320.4,376.6 320.6,377.0 320.8,378.3 321.0,377.1 321.2,378.2 321.4,377.1 321.6,378.5 321.8,378.0 322.0,378.1 322.2,377.6 322.4,377.7 322.6,377.2 322.8,376.9 323.0,377.0 323.2,378.5 323.4,378.5 323.6,378.3 323.8,377.7 324.0,378.1 324.2,378.3 324.4,376.7 324.6,377.6 324.8,378.6 325.0,378.0 325.2,378.0 325.4,377.9 325.6,378.4 325.8,378.2 326.0,377.0 326.2,378.0 326.4,377.7 326.6,377.1 326.8,377.0 327.0,378.0 327.2,378.0 327.4,378.3 327.6,378.1 327.8,377.3 328.0,376.7 328.2,376.7 328.4,378.4 328.6,377.8 328.8,378.5 329.0,378.6 329.2,376.6 329.4,377.9 329.6,377.8 329.8,376.6 330.0,377.8 330.2,377.8 330.4,378.1 330.6,377.5 330.8,378.2 331.0,377.3 331.2,377.4 331.4,378.0 331.6,377.2 331.8,376.8 332.0,377.4 332.2,377.3 332.4,377.0 332.6,377.9 332.8,378.4 333.0,377.6 333.2,377.1 333.4,376.7 333.6,377.2 333.8,378.1 334.0,377.8 334.2,378.1 334.4,376.9 334.6,378.3 334.8,378.2 335.0,377.7 335.2,377.8 335.4,378.5 335.6,377.1 335.8,377.4 336.0,377.9 336.2,377.0 336.4,377.8 336.6,377.9 336.8,377.4 337.0,377.2 337.2,377.0 337.4,376.4 337.6,375.2 337.8,375.3 338.0,373.7 338.2,375.1 338.4,377.0 338.6,376.1 338.8,376.7 339.0,376.3 339.2,376.6 339.4,376.7 339.6,375.8 339.8,376.4 340.0,376.3 340.2,375.7 340.4,375.8 340.6,375.9 340.8,375.0 341.0,376.8 341.2,376.4 341.4,375.4 341.6,376.5 341.8,377.3 342.0,375.6 342.2,375.4 342.4,376.2 342.6,375.9 342.8,375.8 343.0,376.3 343.2,375.1 343.4,377.1 343.6,376.7 343.8,376.6 344.0,376.7 344.2,375.4 344.4,377.2 344.6,376.3 344.8,375.9 345.0,375.2 345.2,375.1 345.4,375.8 345.6,375.9 345.8,376.0 346.0,376.6 346.2,376.3 346.4,376.1 346.6,375.6 346.8,375.6 347.0,374.8 347.2,376.3 347.4,377.3 347.6,375.5 347.8,376.2 348.0,376.3 348.2,376.7 348.4,375.1 348.6,377.2 348.8,377.1 349.0,377.4 349.2,376.7 349.4,374.2 349.6,375.2 349.8,376.5 350.0,375.3 350.2,375.3 350.4,376.4 350.6,376.9 350.8,375.3 351.0,375.3 351.2,375.1 351.4,376.6 351.6,376.2 351.8,377.0 352.0,376.9 352.2,375.8 352.4,376.8 352.6,377.4 352.8,376.0 353.0,377.3 353.2,377.1 353.4,375.7 353.6,375.2 353.8,377.3 354.0,375.3 354.2,375.2 354.4,375.2 354.6,377.0 354.8,377.0 355.0,376.1 355.2,376.9 355.4,376.0 355.6,376.1 355.8,375.3 356.0,376.0 356.2,377.0 356.4,377.1 356.6,375.4 356.8,377.0 357.0,376.6 357.2,375.1 357.4,376.0 357.6,377.3 357.8,375.6 358.0,376.3 358.2,377.2 358.4,374.4 358.6,376.9 358.8,373.2 359.0,375.6 359.2,377.2 359.4,375.7 359.6,375.7 359.8,375.6 360.0,376.6 360.2,375.8 360.4,376.4 360.6,376.6 360.8,375.3 361.0,376.5 361.2,375.2 361.4,375.3 361.6,375.7 361.8,377.2 362.0,377.0 362.2,376.4 362.4,376.5 362.6,376.3 363.0,346.0 363.2,345.8 363.4,346.3 363.6,346.4 363.8,346.6 364.0,345.3 364.2,346.0 364.4,346.2 364.6,346.4 364.8,346.5 365.0,346.3 365.2,345.4 365.4,346.9 365.6,345.8 365.8,346.2 366.0,345.5 366.2,345.4 366.4,345.7 366.6,347.2 366.8,345.5 367.0,346.3 367.2,346.1 367.4,345.8 367.6,346.5 367.8,346.6 368.0,347.1 368.2,346.2 368.4,345.7 368.6,346.0 368.8,346.6 369.0,347.0 369.2,346.1 369.4,346.4 369.6,349.0 369.8,346.6 370.0,346.7 370.2,346.6 370.4,346.4 370.6,346.5 370.8,345.4 371.0,346.5 371.2,347.0 371.4,345.5 371.6,345.9 371.8,346.9 372.0,346.6 372.2,346.2 372.4,345.4 372.6,345.2 372.8,346.9 373.0,346.4 373.2,345.5 373.4,346.0 373.6,345.4 373.8,346.1 374.0,346.7 374.2,345.8 374.4,346.3 374.6,346.2 374.8,345.3 375.0,346.1 375.2,345.5 375.4,346.0 375.6,346.3 375.8,346.4 376.0,346.7 376.2,345.7 376.4,346.2 376.6,345.7 376.8,346.0 377.0,345.7 377.2,345.7 377.4,346.0 377.6,346.3 377.8,346.2 378.0,347.0 378.2,345.4 378.4,347.3 378.6,346.8 378.8,346.1 379.0,345.2 379.2,346.5 379.4,346.1 379.6,346.4 379.8,346.3 380.0,346.5 380.2,345.9 380.4,345.4 380.6,346.1 380.8,346.1 381.0,345.7 381.2,345.4 381.4,345.6 381.6,346.5 381.8,346.5 382.0,346.6 382.2,345.8 382.4,346.1 382.6,347.3 382.8,346.3 383.0,346.2 383.2,345.7 383.4,347.9 383.6,347.1 383.8,346.0 384.0,346.5 384.2,346.7 384.4,347.7 384.6,346.2 384.8,346.3 385.0,347.0 385.2,346.7 385.4,346.1 385.6,346.1 385.8,345.4 386.0,347.0 386.2,345.8 386.4,345.9 386.6,350.1 386.8,348.1 387.0,345.7 387.2,345.7 387.4,346.0 387.6,346.0 387.8,347.8 388.0,345.7 388.2,347.0 388.4,346.6 388.6,347.5 388.8,347.6 389.0,347.0 389.2,345.2 389.4,348.4 389.6,345.3 389.8,346.7 390.0,345.6 390.2,346.7 390.4,346.2 390.6,345.3 390.8,346.2 391.0,346.1 391.2,346.3 391.4,346.0 391.6,346.2 391.8,347.1 392.0,346.7 392.2,346.2 392.4,345.4 392.6,345.7 392.8,346.2 393.0,346.0 393.2,345.8 393.4,346.9 393.6,345.8 393.8,346.0 394.0,346.6 394.2,346.7 394.4,347.0 394.6,346.0 394.8,345.8 395.0,346.0 395.2,346.2 395.4,345.2 395.6,346.1 395.8,345.5 396.0,347.0 396.2,350.0 396.4,345.3 396.6,347.0 396.8,346.8 397.0,345.5 397.2,345.4 397.4,346.1 397.6,345.7 397.8,345.5 398.0,345.3 398.2,346.3 398.4,346.0 398.6,346.6 398.8,346.9 399.0,345.8 399.2,346.3 399.4,348.7 399.6,346.1 399.8,346.6 400.0,346.8 400.2,345.7 400.4,346.1 400.6,347.5 400.8,347.0 401.0,346.6 401.2,346.9 401.4,346.5 401.6,346.9 401.8,346.8 402.0,347.0 402.2,345.5 402.4,345.5 402.6,345.9 402.8,345.9 403.0,348.0 403.2,345.9 403.4,346.0 403.6,346.9 403.8,346.8 404.0,347.0 404.2,347.7 404.4,345.8 404.6,345.2 404.8,345.3 405.0,346.1 405.2,348.2 405.4,345.6 405.6,346.0 405.8,346.1 406.0,345.8 406.2,345.9 406.4,346.2 406.6,348.3 406.8,346.6 407.0,346.5 407.2,346.4 407.4,345.8 407.6,346.6 407.8,346.2 408.0,347.4 408.2,346.9 408.4,345.8 408.6,346.2 408.8,347.9 409.0,345.9 409.2,345.4 409.4,346.2 409.6,345.3 409.8,347.0 410.0,346.2 410.2,346.3 410.4,345.5 410.6,346.0 410.8,345.3 411.0,345.4 411.2,346.1 411.4,346.7 411.6,345.8 411.8,346.1 412.0,347.0 412.2,346.2 412.4,346.2 412.6,345.4 412.8,346.4 413.0,346.4 413.2,346.4 413.4,346.1 413.6,347.4 413.8,346.6 414.0,346.1 414.2,346.4 414.4,346.7 414.6,345.9 414.8,348.1 415.0,345.7 415.2,346.6 415.4,346.2 415.6,345.4 415.8,347.0 416.0,346.1 416.2,346.0 416.4,345.6 416.6,347.9 416.8,346.8 417.0,345.5 417.2,345.5 417.4,346.1 417.6,345.7 417.8,347.3 418.0,346.5 418.2,347.0 418.4,346.1 418.6,346.4 418.8,346.6 419.0,347.7 419.2,346.6 419.4,345.4 419.6,345.5 419.8,346.4 420.0,345.3 420.2,347.5 420.4,346.0 420.6,346.4 420.8,345.4 421.0,346.8 421.2,345.6 421.4,345.2 421.6,345.8 421.8,345.3 422.0,346.6 422.2,347.8 422.4,347.0 422.6,348.2 422.8,346.4 423.0,346.6 423.2,347.1 423.4,346.0 423.6,346.7 423.8,347.0 424.0,346.9 424.2,347.6 424.4,346.4 424.6,346.3 424.8,346.6 425.0,346.5 425.2,345.6 425.4,345.9 425.6,346.2 425.8,345.3 426.0,346.6 426.2,347.9 426.4,346.1 426.6,346.8 426.8,345.2 427.0,347.0 427.2,346.3 427.4,345.3 427.6,346.2 427.8,345.6 428.0,346.1 428.2,346.3 428.4,345.7 428.6,345.7 428.8,345.6 429.0,346.6 429.2,346.2 429.4,347.1 429.6,345.9 429.8,347.5 430.0,345.4 430.2,345.9 430.4,346.7 430.6,345.8 430.8,347.4 431.0,350.2 431.2,345.9 431.4,346.1 431.6,345.4 431.8,348.6 432.0,345.8 432.2,346.3 432.4,346.7 432.6,346.9 432.8,345.4 433.0,346.2 433.2,346.4 433.4,346.4 433.6,346.0 433.8,349.0 434.0,347.6 434.2,345.6 434.4,346.3 434.6,347.7 434.8,345.9 435.0,348.2 435.2,345.9 435.4,346.4 435.6,349.6 435.8,346.9 436.0,346.2" fill="none" stroke="#e2191f" stroke-width="1.2" stroke-linejoin="round" />
<path d="M272.2,374.6 V387.3" stroke="#000" stroke-width="2"/>
<path d="M504.8,382.6 505.0,381.7 505.2,382.9 505.4,381.0 505.6,383.3 505.8,382.1 506.0,381.3 506.2,381.7 506.4,382.7 506.6,381.1 506.8,383.5 507.0,381.5 507.2,382.0 507.4,381.0 507.6,382.2 507.8,383.7 508.0,381.4 508.2,381.3 508.4,382.4 508.6,382.7 508.8,381.2 509.0,381.5 509.2,382.6 509.4,381.5 509.6,380.9 509.8,382.9 510.0,383.4 510.2,383.2 510.4,383.4 510.6,381.4 510.8,381.7 511.0,382.6 511.2,382.6 511.4,382.7 511.6,382.5 511.8,381.5 512.0,381.5 512.2,381.1 512.4,381.0 512.6,382.5 512.8,381.1 513.0,383.4 513.2,383.7 513.4,381.2 513.6,383.7 513.8,382.7 514.0,380.8 514.2,381.9 514.4,381.9 514.6,381.7 514.8,381.0 515.0,381.5 515.2,380.9 515.4,382.1 515.6,382.2 515.8,381.5 516.0,383.6 516.2,383.5 516.4,382.3 516.6,383.2 516.8,381.9 517.0,383.1 517.2,383.1 517.4,381.9 517.6,383.0 517.8,381.9 518.0,381.3 518.2,382.1 518.4,381.1 518.6,383.0 518.8,381.6 519.0,382.3 519.2,383.2 519.4,382.6 519.6,383.5 519.8,383.0 520.0,382.9 520.2,383.0 520.4,382.9 520.6,383.6 520.8,382.6 521.0,382.8 521.2,382.4 521.4,382.4 521.6,383.6 521.8,381.7 522.0,381.4 522.2,382.3 522.4,381.7 522.6,382.9 522.8,382.7 523.0,380.8 523.2,381.4 523.4,382.7 523.6,382.0 523.8,382.8 524.0,382.2 524.2,381.1 524.4,382.9 524.6,383.7 524.8,381.1 525.0,382.6 525.2,382.6 525.4,382.6 525.6,382.3 525.8,382.3 526.0,383.8 526.2,383.4 526.4,382.1 526.6,383.2 526.8,382.8 527.0,383.2 527.2,383.8 527.4,381.0 527.6,381.4 527.8,381.5 528.0,383.3 528.2,383.6 528.4,381.5 528.6,382.3 528.8,383.5 529.0,383.0 529.2,382.6 529.4,383.5 529.6,383.6 529.8,381.1 530.0,383.7 530.2,381.7 530.4,382.6 530.6,383.1 530.8,381.7 531.0,381.7 531.2,383.5 531.4,383.2 531.6,383.7 531.8,381.1 532.0,382.7 532.2,383.0 532.4,383.7 532.6,383.0 532.8,381.6 533.0,381.1 533.2,381.3 533.4,381.6 533.6,382.5 533.8,381.8 534.0,381.2 534.2,381.1 534.4,382.9 534.6,383.2 534.8,381.2 535.0,382.3 535.2,383.7 535.4,381.9 535.6,382.4 535.8,383.2 536.0,380.9 536.2,383.4 536.4,383.1 536.6,383.0 536.8,381.8 537.0,382.3 537.2,383.6 537.4,381.0 537.6,381.0 537.8,382.7 538.0,383.7 538.2,381.2 538.4,381.4 538.6,382.2 538.8,383.2 539.0,382.5 539.2,382.8 539.4,381.0 539.6,381.4 539.8,382.6 540.0,383.0 540.2,381.1 540.4,381.1 540.6,381.7 540.8,382.0 541.0,381.8 541.2,381.3 541.4,381.0 541.6,382.7 541.8,383.7 542.0,382.7 542.2,383.6 542.4,381.2 542.6,382.6 542.8,381.9 543.0,383.3 543.2,382.6 543.4,382.6 543.6,383.5 543.8,383.7 544.0,381.2 544.2,382.1 544.4,381.1 544.6,382.5 544.8,381.5 545.0,382.9 545.2,381.9 545.4,380.8 545.6,383.5 545.8,381.2 546.0,381.6 546.2,382.4 546.4,381.0 546.6,383.1 546.8,382.9 547.0,381.2 547.2,382.7 547.4,381.2 547.6,382.4 547.8,381.1 548.0,381.6 548.2,382.2 548.4,382.4 548.6,382.8 548.8,383.6 549.0,381.8 549.2,381.9 549.4,381.4 549.6,383.0 549.8,381.9 550.0,381.4 550.2,381.4 550.4,382.1 550.6,383.3 550.8,382.1 551.0,383.2 551.2,382.2 551.4,382.5 551.6,381.6 551.8,382.0 552.0,383.0 552.2,381.1 552.4,382.2 552.6,381.6 552.8,381.7 553.0,381.8 553.2,381.4 553.4,382.5 553.6,380.9 553.8,381.5 554.0,381.6 554.2,381.3 554.4,383.3 554.6,382.9 554.8,383.5 555.0,381.2 555.2,381.4 555.4,381.7 555.6,382.3 555.8,383.3 556.0,383.3 556.2,383.4 556.4,380.9 556.6,380.9 556.8,381.8 557.0,382.1 557.2,380.9 557.4,382.0 557.6,381.4 557.8,383.7 558.0,381.7 558.2,382.2 558.4,381.8 558.6,384.1 558.8,381.8 559.0,383.0 559.2,382.4 559.4,382.6 559.6,385.3 559.8,384.5 560.0,384.7 560.2,383.5 560.4,386.0 560.6,386.1 560.8,385.0 561.0,382.9 561.2,384.7 561.4,386.9 561.6,384.0 561.8,385.7 562.0,384.2 562.2,386.7 562.4,386.3 562.6,387.6 562.8,387.1 563.0,385.9 563.2,388.0 563.4,385.7 563.6,384.8 563.8,385.6 564.0,390.4 564.2,387.9 564.4,384.5 564.6,387.8 564.8,384.7 565.0,387.0 565.2,386.0 565.4,387.7 565.6,388.9 565.8,387.8 566.0,388.5 566.2,385.1 566.4,388.4 566.6,388.4 566.8,385.9 567.0,387.6 567.2,386.1 567.4,388.1 567.6,388.6 567.8,386.9 568.0,385.3 568.2,388.4 568.4,387.6 568.6,386.3 568.8,384.7 569.0,387.6 569.2,388.7 569.4,388.4 569.6,386.2 569.8,386.6 570.0,388.9 570.2,388.2 570.4,387.7 570.6,384.7 570.8,386.6 571.0,388.4 571.2,385.4 571.4,386.8 571.6,388.7 571.8,386.3 572.0,384.5 572.2,387.1 572.4,386.6 572.6,388.5 572.8,385.4 573.0,385.8 573.2,386.3 573.4,387.8 573.6,386.9 573.8,385.9 574.0,385.9 574.2,384.8 574.4,386.9 574.6,386.4 574.8,386.8 575.0,385.5 575.2,387.2 575.4,384.8 575.6,387.2 575.8,387.8 576.0,388.3 576.2,385.5 576.4,388.8 576.6,387.2 576.8,385.9 577.0,385.8 577.2,387.2 577.4,387.2 577.6,384.3 577.8,384.8 578.0,388.5 578.2,388.0 578.4,385.9 578.6,385.6 578.8,387.1 579.0,384.4 579.2,388.8 579.4,385.6 579.6,387.0 579.8,386.5 580.0,386.1 580.2,385.6 580.4,387.5 580.6,384.8 580.8,388.9 581.0,387.4 581.2,385.2 581.4,384.4 581.6,384.4 581.8,384.9 582.0,386.5 582.2,384.7 582.4,388.7 582.6,388.5 582.8,385.2 583.0,384.4 583.2,387.3 583.4,388.6 583.6,385.8 583.8,388.6 584.0,388.8 584.2,387.9 584.4,386.2 584.6,388.6 584.8,384.4 585.0,388.3 585.2,386.5 585.4,387.8 585.6,387.5 585.8,384.3 586.0,386.3 586.2,384.4 586.4,385.7 586.6,387.3 586.8,387.3 587.0,384.8 587.2,386.1 587.4,387.7 587.6,388.3 587.8,387.7 588.0,386.7 588.2,388.2 588.4,385.0 588.6,387.6 588.8,385.2 589.0,387.8 589.2,385.0 589.4,387.2 589.6,388.5 589.8,388.1 590.0,384.9 590.2,386.8 590.4,386.3 590.6,385.4 590.8,385.8 591.0,384.5 591.2,384.4 591.4,388.7 591.6,387.0 591.8,384.6 592.0,386.6 592.2,384.5 592.4,385.4 592.6,384.4 592.8,386.0 593.0,388.2 593.2,385.4 593.4,385.9 593.6,387.3 593.8,386.5 594.0,386.4 594.2,387.5 594.4,386.7 594.6,387.4 594.8,384.9 595.0,388.7 595.2,388.3 595.4,387.5 595.6,387.7 595.8,388.7 596.0,387.2 596.2,387.2 596.4,386.9 596.6,387.4 596.8,385.2 597.0,385.5 597.2,386.6 597.4,388.7 597.6,388.3 597.8,384.9 598.0,384.7 598.2,386.4 598.4,388.8 598.6,385.1 598.8,387.4 599.0,386.2 599.2,386.2 599.4,387.0 599.6,386.6 599.8,387.0 600.0,387.8 600.2,387.7 600.4,386.6 600.6,387.7 600.8,386.0 601.0,385.5 601.2,386.8 601.4,384.4 601.6,385.8 601.8,387.3 602.0,388.6 602.2,386.0 602.4,386.7 602.6,388.2 602.8,384.2 603.0,387.5 603.2,386.7 603.4,385.1 603.6,383.4 603.8,385.6 604.0,384.2 604.2,385.3 604.4,384.3 604.6,383.1 604.8,383.0 605.0,382.3 605.2,383.6 605.4,383.3 605.6,381.3 605.8,383.5 606.0,382.8 606.2,381.9 606.4,383.0 606.6,382.1 606.8,382.9 607.0,382.3 607.2,382.7 607.4,383.6 607.6,383.5 607.8,382.2 608.0,382.0 608.2,382.9 608.4,382.8 608.6,381.1 608.8,382.3 609.0,381.6 609.2,382.7 609.4,381.3 609.6,381.7 609.8,381.6 610.0,381.6 610.2,382.5 610.4,383.4 610.6,382.7 610.8,382.7 611.0,383.1 611.2,382.0 611.4,382.1 611.6,382.8 611.8,381.4 612.0,383.1 612.2,383.6 612.4,383.4 612.6,381.0 612.8,383.5 613.0,381.5 613.2,381.2 613.4,382.7 613.6,381.8 613.8,381.3 614.0,382.6 614.2,382.4 614.4,382.4 614.6,382.3 614.8,382.7 615.0,383.1 615.2,383.0 615.4,382.9 615.6,383.3 615.8,382.2 616.0,382.7 616.2,381.1 616.4,381.0 616.6,382.2 616.8,382.8 617.0,381.5 617.2,383.7 617.4,381.7 617.6,382.3 617.8,382.2 618.0,383.7 618.2,381.3 618.4,381.6 618.6,382.7 618.8,381.9 619.0,381.8 619.2,381.2 619.4,383.6 619.6,382.1 619.8,382.5 620.0,381.5 620.2,383.6 620.4,381.1 620.6,382.9 620.8,381.0 621.0,382.4 621.2,381.8 621.4,383.7 621.6,382.1 621.8,383.3 622.0,380.9 622.2,381.5 622.4,383.8 622.6,381.9 622.8,380.9 623.0,381.6 623.2,381.9 623.4,382.4 623.6,381.9 623.8,381.7 624.0,382.2 624.2,382.2 624.4,381.3 624.6,382.4 624.8,382.5 625.0,382.5 625.2,383.0 625.4,382.2 625.6,381.4 625.8,383.6 626.0,381.2 626.2,381.7 626.4,382.1 626.6,382.0 626.8,381.4 627.0,383.4 627.2,381.7 627.4,382.4 627.6,382.6 627.8,381.2 628.0,382.1 628.2,381.2 628.4,382.4 628.6,383.0 628.8,383.4 629.0,383.6 629.2,381.1 629.4,382.2 629.6,382.8 629.8,381.9 630.0,383.6 630.2,382.3 630.4,383.4 630.6,381.0 630.8,382.0 631.0,382.9 631.2,383.3 631.4,382.3 631.6,383.4 631.8,383.1 632.0,382.0 632.2,382.9 632.4,382.3 632.6,381.1 632.8,383.5 633.0,383.3 633.2,383.5 633.4,381.5 633.6,383.1 633.8,380.9 634.0,382.3 634.2,381.7 634.4,382.3 634.6,381.9 634.8,382.4 635.0,382.1 635.2,383.1 635.4,382.8 635.6,381.6 635.8,381.4 636.0,381.5 636.2,381.8 636.4,382.1 636.6,382.3 636.8,383.1 637.0,383.7 637.2,381.6 637.4,381.7 637.6,382.4 637.8,380.8 638.0,382.7 638.2,380.9 638.4,382.6 638.6,382.6 638.8,381.9 639.0,383.8 639.2,381.7 639.4,380.9 639.6,381.1 639.8,381.5 640.0,383.0 640.2,383.0 640.4,381.9 640.6,383.4 640.8,381.3 641.0,381.5 641.2,382.5 641.4,382.4 641.6,383.2 641.8,381.7 642.0,383.5 642.2,382.7 642.4,382.9 642.6,382.5 642.8,381.4 643.0,382.5 643.2,383.6 643.4,380.8 643.6,381.8 643.8,381.7 644.0,381.6 644.2,383.1 644.4,382.7 644.6,381.2 644.8,382.9 645.0,383.4 645.2,381.0 645.4,380.9 645.6,382.6 645.8,383.4 646.0,382.5 646.2,382.3 646.4,382.0 646.6,382.5 646.8,383.5 647.0,382.6 647.2,383.0 647.4,382.2 647.6,383.5 647.8,383.1 648.0,382.3 648.2,381.7 648.4,381.7 648.6,383.7 648.8,382.7 649.0,381.0 649.2,382.4 649.4,382.1 649.6,382.6 649.8,381.7 650.0,383.5 650.2,382.2 650.4,383.3 650.6,381.6 650.8,383.5 651.0,382.4 651.2,382.4 651.4,382.1 651.6,383.6 651.8,382.5 652.0,382.4 652.2,381.9 652.4,382.2 652.6,381.6 652.8,382.1 653.0,381.6 653.2,381.0 653.4,381.9 653.6,380.9 653.8,382.8 654.0,381.1 654.2,383.5 654.4,381.8 654.6,381.6 654.8,382.4 655.0,381.7 655.2,383.0 655.4,381.7 655.6,383.6 655.8,380.9 656.0,381.0 656.2,383.4 656.4,382.9 656.6,381.6 656.8,382.7 657.0,381.9 657.2,382.3 657.4,381.6 657.6,382.4 657.8,382.7 658.0,383.3 658.2,381.6 658.4,382.5 658.6,382.5 658.8,383.4 659.0,382.2 659.2,383.4 659.4,383.6 659.6,382.0 659.8,382.0 660.0,383.7 660.2,382.5 660.4,382.4 660.6,383.1 660.8,382.6 661.0,382.4 661.2,382.8 661.4,381.6 661.6,381.9 661.8,380.8 662.0,383.0 662.2,383.3 662.4,383.0 662.6,383.7 662.8,383.1 663.0,381.1 663.2,381.8 663.4,383.6 663.6,381.1 663.8,383.4" fill="none" stroke="#3b7dd0" stroke-width="1.2" stroke-linejoin="round" />
<path d="M504.8,378.2 505.0,376.9 505.2,377.0 505.4,378.1 505.6,377.9 505.8,376.7 506.0,377.7 506.2,377.0 506.4,378.3 506.6,377.7 506.8,376.6 507.0,377.4 507.2,376.6 507.4,378.4 507.6,378.4 507.8,378.0 508.0,376.6 508.2,378.5 508.4,377.1 508.6,377.9 508.8,378.1 509.0,377.7 509.2,376.8 509.4,377.1 509.6,378.1 509.8,376.8 510.0,377.4 510.2,378.5 510.4,377.4 510.6,376.9 510.8,377.9 511.0,377.3 511.2,378.2 511.4,377.3 511.6,378.3 511.8,378.3 512.0,377.0 512.2,377.7 512.4,377.5 512.6,376.8 512.8,378.4 513.0,377.3 513.2,377.8 513.4,376.7 513.6,378.5 513.8,378.6 514.0,378.0 514.2,376.9 514.4,377.9 514.6,377.5 514.8,377.5 515.0,377.0 515.2,376.9 515.4,378.3 515.6,377.8 515.8,378.1 516.0,378.1 516.2,377.4 516.4,377.7 516.6,377.2 516.8,377.9 517.0,377.5 517.2,378.2 517.4,377.2 517.6,377.4 517.8,376.8 518.0,376.7 518.2,377.0 518.4,376.6 518.6,377.4 518.8,377.4 519.0,378.4 519.2,376.7 519.4,378.6 519.6,376.8 519.8,378.3 520.0,377.3 520.2,377.1 520.4,377.8 520.6,377.3 520.8,376.6 521.0,376.9 521.2,378.0 521.4,378.0 521.6,378.6 521.8,377.1 522.0,378.1 522.2,377.3 522.4,377.6 522.6,377.2 522.8,377.4 523.0,378.4 523.2,377.1 523.4,377.4 523.6,378.4 523.8,377.5 524.0,378.2 524.2,377.7 524.4,377.3 524.6,378.0 524.8,377.9 525.0,377.4 525.2,378.6 525.4,376.8 525.6,378.3 525.8,378.0 526.0,378.0 526.2,377.5 526.4,378.1 526.6,376.7 526.8,377.9 527.0,378.3 527.2,377.4 527.4,378.1 527.6,378.0 527.8,377.6 528.0,378.1 528.2,377.6 528.4,376.8 528.6,377.6 528.8,378.1 529.0,376.9 529.2,377.5 529.4,378.3 529.6,376.6 529.8,378.3 530.0,377.3 530.2,377.3 530.4,378.0 530.6,377.7 530.8,377.2 531.0,376.9 531.2,377.4 531.4,378.4 531.6,378.6 531.8,378.0 532.0,378.0 532.2,378.0 532.4,378.4 532.6,376.9 532.8,376.9 533.0,378.3 533.2,376.6 533.4,377.6 533.6,377.4 533.8,378.4 534.0,377.8 534.2,377.1 534.4,376.7 534.6,377.5 534.8,377.7 535.0,377.5 535.2,377.8 535.4,376.7 535.6,377.3 535.8,378.3 536.0,377.2 536.2,377.0 536.4,377.0 536.6,378.5 536.8,378.3 537.0,377.4 537.2,377.3 537.4,377.3 537.6,378.4 537.8,378.4 538.0,378.5 538.2,378.3 538.4,378.0 538.6,376.8 538.8,378.5 539.0,376.9 539.2,378.1 539.4,377.3 539.6,376.7 539.8,377.9 540.0,377.1 540.2,378.4 540.4,377.0 540.6,377.9 540.8,377.5 541.0,376.7 541.2,377.2 541.4,377.2 541.6,378.1 541.8,378.1 542.0,378.5 542.2,376.9 542.4,377.0 542.6,377.3 542.8,377.2 543.0,377.0 543.2,378.1 543.4,376.6 543.6,377.7 543.8,376.9 544.0,377.2 544.2,377.2 544.4,377.5 544.6,378.5 544.8,378.1 545.0,377.5 545.2,378.6 545.4,377.1 545.6,377.0 545.8,377.9 546.0,378.1 546.2,378.0 546.4,377.6 546.6,378.0 546.8,377.3 547.0,378.5 547.2,378.1 547.4,378.2 547.6,377.7 547.8,378.4 548.0,377.5 548.2,378.5 548.4,377.5 548.6,378.5 548.8,377.2 549.0,377.6 549.2,377.7 549.4,377.7 549.6,378.3 549.8,378.3 550.0,377.0 550.2,378.0 550.4,377.7 550.6,377.4 550.8,376.8 551.0,378.4 551.2,378.6 551.4,378.0 551.6,377.7 551.8,376.8 552.0,377.2 552.2,377.3 552.4,376.8 552.6,377.4 552.8,377.3 553.0,377.4 553.2,376.7 553.4,376.9 553.6,378.5 553.8,377.7 554.0,377.1 554.2,377.5 554.4,377.3 554.6,377.6 554.8,377.0 555.0,378.1 555.2,378.5 555.4,377.9 555.6,378.5 555.8,378.2 556.0,377.7 556.2,377.6 556.4,378.0 556.6,377.3 556.8,376.8 557.0,377.5 557.2,378.2 557.4,377.9 557.6,376.7 557.8,378.3 558.0,376.7 558.2,377.6 558.4,377.0 558.6,377.2 558.8,377.1 559.0,377.8 559.2,378.0 559.4,378.4 559.6,377.6 559.8,376.7 560.0,376.7 560.2,376.8 560.4,376.9 560.6,377.0 560.8,377.2 561.0,376.9 561.2,378.3 561.4,377.3 561.6,377.6 561.8,378.1 562.0,376.8 562.2,377.4 562.4,376.3 562.6,377.1 562.8,377.8 563.0,376.9 563.2,376.2 563.4,376.8 563.6,376.3 563.8,376.2 564.0,376.4 564.2,376.5 564.4,376.8 564.6,377.0 564.8,376.9 565.0,376.6 565.2,376.4 565.4,376.6 565.6,375.4 565.8,375.4 566.0,376.7 566.2,375.9 566.4,375.0 566.6,376.5 566.8,375.3 567.0,375.5 567.2,376.8 567.4,375.4 567.6,376.7 567.8,375.5 568.0,376.6 568.2,375.8 568.4,376.1 568.6,376.4 568.8,376.4 569.0,375.4 569.2,376.3 569.4,375.3 569.6,375.5 569.8,376.6 570.0,375.3 570.2,375.8 570.4,375.2 570.6,376.2 570.8,375.4 571.0,375.7 571.2,377.0 571.4,375.9 571.6,376.0 571.8,375.1 572.0,375.5 572.2,375.2 572.4,376.2 572.6,375.3 572.8,375.4 573.0,375.3 573.2,376.5 573.4,376.3 573.6,375.6 573.8,375.6 574.0,375.6 574.2,376.1 574.4,376.1 574.6,375.3 574.8,375.3 575.0,376.3 575.2,375.6 575.4,376.3 575.6,375.4 575.8,375.2 576.0,375.1 576.2,376.7 576.4,376.1 576.6,375.0 576.8,375.7 577.0,376.3 577.2,375.4 577.4,376.7 577.6,375.0 577.8,376.1 578.0,376.1 578.2,375.4 578.4,377.0 578.6,376.1 578.8,375.3 579.0,376.5 579.2,375.1 579.4,376.4 579.6,376.7 579.8,376.3 580.0,375.0 580.2,375.1 580.4,376.7 580.6,376.7 580.8,375.5 581.0,376.9 581.2,376.6 581.4,375.2 581.6,376.8 581.8,375.0 582.0,375.6 582.2,375.4 582.4,375.4 582.6,376.0 582.8,375.1 583.0,376.9 583.2,375.4 583.4,376.4 583.6,375.7 583.8,376.8 584.0,376.1 584.2,376.0 584.4,376.5 584.6,376.1 584.8,375.9 585.0,375.3 585.2,376.6 585.4,376.3 585.6,375.9 585.8,377.0 586.0,375.9 586.2,376.5 586.4,375.3 586.6,375.7 586.8,376.3 587.0,375.5 587.2,377.0 587.4,377.0 587.6,376.3 587.8,376.4 588.0,375.5 588.2,376.5 588.4,376.7 588.6,375.9 588.8,376.1 589.0,376.3 589.2,375.5 589.4,375.1 589.6,375.4 589.8,376.1 590.0,376.3 590.2,376.7 590.4,375.5 590.6,375.3 590.8,375.8 591.0,375.3 591.2,375.5 591.4,376.0 591.6,376.4 591.8,375.2 592.0,375.3 592.2,375.9 592.4,376.0 592.6,375.4 592.8,376.3 593.0,376.1 593.2,376.9 593.4,376.9 593.6,376.3 593.8,375.2 594.0,376.0 594.2,375.5 594.4,375.6 594.6,375.2 594.8,376.4 595.0,376.3 595.2,375.5 595.4,375.5 595.6,377.0 595.8,376.1 596.0,376.4 596.2,375.5 596.4,376.9 596.6,376.4 596.8,376.0 597.0,375.2 597.2,375.9 597.4,375.0 597.6,375.4 597.8,376.6 598.0,375.2 598.2,375.4 598.4,375.7 598.6,376.9 598.8,375.3 599.0,375.8 599.2,376.1 599.4,375.1 599.6,376.1 599.8,375.1 600.0,375.6 600.2,375.6 600.4,377.0 600.6,375.9 600.8,375.6 601.0,375.7 601.2,375.6 601.4,375.3 601.6,375.6 601.8,376.4 602.0,375.7 602.2,375.5 602.4,375.1 602.6,376.7 602.8,375.8 603.0,375.9 603.2,377.1 603.4,377.5 603.6,376.8 603.8,376.0 604.0,377.6 604.2,377.6 604.4,376.3 604.6,376.9 604.8,378.1 605.0,377.5 605.2,376.9 605.4,378.6 605.6,377.0 605.8,377.0 606.0,378.0 606.2,378.6 606.4,378.0 606.6,376.6 606.8,376.6 607.0,377.0 607.2,377.9 607.4,378.5 607.6,376.8 607.8,377.9 608.0,378.0 608.2,376.7 608.4,378.4 608.6,377.2 608.8,377.3 609.0,378.2 609.2,377.7 609.4,377.9 609.6,376.7 609.8,377.8 610.0,376.9 610.2,378.2 610.4,378.1 610.6,377.9 610.8,377.9 611.0,378.6 611.2,378.3 611.4,378.0 611.6,377.3 611.8,376.6 612.0,378.6 612.2,376.7 612.4,376.7 612.6,377.8 612.8,378.6 613.0,377.5 613.2,377.0 613.4,376.6 613.6,376.9 613.8,377.3 614.0,377.3 614.2,377.1 614.4,378.4 614.6,378.6 614.8,378.6 615.0,377.0 615.2,378.0 615.4,376.9 615.6,377.5 615.8,377.6 616.0,377.2 616.2,378.2 616.4,377.0 616.6,378.2 616.8,378.1 617.0,377.9 617.2,376.8 617.4,376.8 617.6,378.2 617.8,378.5 618.0,377.1 618.2,377.9 618.4,378.1 618.6,378.3 618.8,376.9 619.0,377.0 619.2,376.7 619.4,378.0 619.6,377.3 619.8,378.0 620.0,376.9 620.2,377.9 620.4,377.1 620.6,377.5 620.8,377.8 621.0,378.5 621.2,377.0 621.4,378.2 621.6,376.7 621.8,377.0 622.0,378.0 622.2,376.8 622.4,378.3 622.6,378.4 622.8,377.0 623.0,378.0 623.2,377.9 623.4,378.6 623.6,377.6 623.8,377.3 624.0,378.4 624.2,377.1 624.4,378.4 624.6,377.3 624.8,377.4 625.0,378.3 625.2,378.1 625.4,377.0 625.6,377.9 625.8,378.6 626.0,377.4 626.2,377.7 626.4,377.9 626.6,378.0 626.8,377.4 627.0,377.4 627.2,377.0 627.4,377.9 627.6,377.3 627.8,378.2 628.0,376.7 628.2,378.1 628.4,376.9 628.6,378.3 628.8,378.2 629.0,377.3 629.2,376.8 629.4,377.0 629.6,377.0 629.8,378.6 630.0,378.2 630.2,376.6 630.4,376.6 630.6,377.7 630.8,377.5 631.0,377.7 631.2,378.3 631.4,378.3 631.6,376.9 631.8,378.5 632.0,377.5 632.2,377.5 632.4,376.9 632.6,377.1 632.8,377.0 633.0,377.2 633.2,377.7 633.4,377.1 633.6,377.1 633.8,376.8 634.0,376.7 634.2,378.4 634.4,377.5 634.6,377.5 634.8,376.9 635.0,378.6 635.2,376.6 635.4,378.2 635.6,376.7 635.8,377.2 636.0,377.6 636.2,377.5 636.4,378.0 636.6,377.7 636.8,378.0 637.0,376.7 637.2,377.2 637.4,377.1 637.6,377.6 637.8,377.4 638.0,376.8 638.2,376.9 638.4,376.7 638.6,376.7 638.8,377.9 639.0,378.5 639.2,377.8 639.4,377.0 639.6,377.8 639.8,377.6 640.0,377.2 640.2,378.2 640.4,377.1 640.6,377.2 640.8,376.7 641.0,377.1 641.2,378.4 641.4,377.6 641.6,378.1 641.8,377.6 642.0,377.1 642.2,377.3 642.4,377.6 642.6,377.2 642.8,377.6 643.0,376.7 643.2,377.4 643.4,376.8 643.6,377.6 643.8,377.7 644.0,378.4 644.2,378.3 644.4,378.4 644.6,377.5 644.8,377.2 645.0,378.3 645.2,376.8 645.4,377.4 645.6,376.7 645.8,378.2 646.0,378.1 646.2,378.5 646.4,377.0 646.6,378.3 646.8,378.0 647.0,377.7 647.2,377.5 647.4,378.2 647.6,377.5 647.8,378.5 648.0,378.5 648.2,377.3 648.4,377.7 648.6,377.5 648.8,378.4 649.0,378.3 649.2,377.4 649.4,377.3 649.6,377.2 649.8,377.9 650.0,377.9 650.2,377.8 650.4,377.6 650.6,377.9 650.8,376.6 651.0,377.6 651.2,378.0 651.4,378.1 651.6,378.2 651.8,377.1 652.0,378.5 652.2,378.5 652.4,377.8 652.6,378.2 652.8,377.0 653.0,377.0 653.2,377.0 653.4,377.7 653.6,378.4 653.8,377.3 654.0,378.5 654.2,378.3 654.4,376.7 654.6,376.7 654.8,378.6 655.0,377.6 655.2,378.2 655.4,378.3 655.6,377.2 655.8,376.6 656.0,378.3 656.2,378.5 656.4,377.4 656.6,377.9 656.8,376.6 657.0,378.5 657.2,377.8 657.4,378.6 657.6,378.0 657.8,377.3 658.0,377.0 658.2,377.6 658.4,378.3 658.6,377.7 658.8,377.7 659.0,377.0 659.2,376.9 659.4,377.1 659.6,377.2 659.8,377.5 660.0,378.5 660.2,377.1 660.4,377.1 660.6,378.1 660.8,378.5 661.0,377.1 661.2,377.2 661.4,377.4 661.6,376.7 661.8,376.8 662.0,377.7 662.2,377.1 662.4,377.1 662.6,378.2 662.8,377.6 663.0,377.7 663.2,377.9 663.4,378.1 663.6,378.4 663.8,378.5" fill="none" stroke="#e2191f" stroke-width="1.2" stroke-linejoin="round" />
<path d="M501.7,375.4 V387.2" stroke="#000" stroke-width="2"/>
<text transform="matrix(1.0310 0 0 1.0489 449.08 384.58)" style="font-family:'Liberation Sans',sans-serif;font-style:normal;font-size:12px" stroke="#000" stroke-width="0.2">0.3 (a.u.)</text>
<path d="M49.9,457.7 V528 H207.5" fill="none" stroke="#3c3c3c" stroke-width="1.2"/>
<path d="M49.9,457.7 H52.4" stroke="#3c3c3c" stroke-width="1"/>
<path d="M49.9,492.8 H52.4" stroke="#3c3c3c" stroke-width="1"/>
<path d="M89.3,528 V525.8" stroke="#3c3c3c" stroke-width="1"/>
<path d="M128.7,528 V525.8" stroke="#3c3c3c" stroke-width="1"/>
<path d="M168.1,528 V525.8" stroke="#3c3c3c" stroke-width="1"/>
<path d="M207.5,528 V525.8" stroke="#3c3c3c" stroke-width="1"/>
<text transform="matrix(1.2160 0 0 1.0054 44.59 547.75)" style="font-family:'Liberation Sans',sans-serif;font-style:normal;font-size:13px" fill="#262626" stroke="#262626" stroke-width="0.2">0</text>
<text transform="matrix(1.2160 0 0 1.0054 83.99 547.75)" style="font-family:'Liberation Sans',sans-serif;font-style:normal;font-size:13px" fill="#262626" stroke="#262626" stroke-width="0.2">2</text>
<text transform="matrix(1.2160 0 0 1.0054 123.39 547.75)" style="font-family:'Liberation Sans',sans-serif;font-style:normal;font-size:13px" fill="#262626" stroke="#262626" stroke-width="0.2">4</text>
<text transform="matrix(1.2160 0 0 1.0054 162.79 547.75)" style="font-family:'Liberation Sans',sans-serif;font-style:normal;font-size:13px" fill="#262626" stroke="#262626" stroke-width="0.2">6</text>
<text transform="matrix(1.2160 0 0 1.0054 202.19 547.75)" style="font-family:'Liberation Sans',sans-serif;font-style:normal;font-size:13px" fill="#262626" stroke="#262626" stroke-width="0.2">8</text>
<text transform="matrix(0.9636 0 0 1.0000 35.04 463.80)" style="font-family:'Liberation Sans',sans-serif;font-style:normal;font-size:13px" fill="#262626" stroke="#262626" stroke-width="0.2">1</text>
<text transform="matrix(1.1588 0 0 1.0378 23.22 497.24)" style="font-family:'Liberation Sans',sans-serif;font-style:normal;font-size:13px" fill="#262626" stroke="#262626" stroke-width="0.2">0.5</text>
<text transform="matrix(1.1040 0 0 1.0378 34.95 532.34)" style="font-family:'Liberation Sans',sans-serif;font-style:normal;font-size:13px" fill="#262626" stroke="#262626" stroke-width="0.2">0</text>
<text transform="matrix(1.0222 0 0 1.1228 114.84 564.95)" style="font-family:'Liberation Sans',sans-serif;font-style:normal;font-size:15px" stroke="#000" stroke-width="0.3">t (s)</text>
<path d="M277.4,457.7 V528 H435.0" fill="none" stroke="#3c3c3c" stroke-width="1.2"/>
<path d="M277.4,457.7 H279.9" stroke="#3c3c3c" stroke-width="1"/>
<path d="M277.4,492.8 H279.9" stroke="#3c3c3c" stroke-width="1"/>
<path d="M316.8,528 V525.8" stroke="#3c3c3c" stroke-width="1"/>
<path d="M356.2,528 V525.8" stroke="#3c3c3c" stroke-width="1"/>
<path d="M395.6,528 V525.8" stroke="#3c3c3c" stroke-width="1"/>
<path d="M435.0,528 V525.8" stroke="#3c3c3c" stroke-width="1"/>
<text transform="matrix(1.2160 0 0 1.0054 272.09 547.75)" style="font-family:'Liberation Sans',sans-serif;font-style:normal;font-size:13px" fill="#262626" stroke="#262626" stroke-width="0.2">0</text>
<text transform="matrix(1.2160 0 0 1.0054 311.49 547.75)" style="font-family:'Liberation Sans',sans-serif;font-style:normal;font-size:13px" fill="#262626" stroke="#262626" stroke-width="0.2">2</text>
<text transform="matrix(1.2160 0 0 1.0054 350.89 547.75)" style="font-family:'Liberation Sans',sans-serif;font-style:normal;font-size:13px" fill="#262626" stroke="#262626" stroke-width="0.2">4</text>
<text transform="matrix(1.2160 0 0 1.0054 390.29 547.75)" style="font-family:'Liberation Sans',sans-serif;font-style:normal;font-size:13px" fill="#262626" stroke="#262626" stroke-width="0.2">6</text>
<text transform="matrix(1.2160 0 0 1.0054 429.69 547.75)" style="font-family:'Liberation Sans',sans-serif;font-style:normal;font-size:13px" fill="#262626" stroke="#262626" stroke-width="0.2">8</text>
<text transform="matrix(0.9636 0 0 1.0000 262.54 463.80)" style="font-family:'Liberation Sans',sans-serif;font-style:normal;font-size:13px" fill="#262626" stroke="#262626" stroke-width="0.2">1</text>
<text transform="matrix(1.1588 0 0 1.0378 250.72 497.24)" style="font-family:'Liberation Sans',sans-serif;font-style:normal;font-size:13px" fill="#262626" stroke="#262626" stroke-width="0.2">0.5</text>
<text transform="matrix(1.1040 0 0 1.0378 262.45 532.34)" style="font-family:'Liberation Sans',sans-serif;font-style:normal;font-size:13px" fill="#262626" stroke="#262626" stroke-width="0.2">0</text>
<text transform="matrix(1.0222 0 0 1.1228 342.34 564.95)" style="font-family:'Liberation Sans',sans-serif;font-style:normal;font-size:15px" stroke="#000" stroke-width="0.3">t (s)</text>
<path d="M505.3,457.7 V528 H662.9" fill="none" stroke="#3c3c3c" stroke-width="1.2"/>
<path d="M505.3,457.7 H507.8" stroke="#3c3c3c" stroke-width="1"/>
<path d="M505.3,492.8 H507.8" stroke="#3c3c3c" stroke-width="1"/>
<path d="M544.7,528 V525.8" stroke="#3c3c3c" stroke-width="1"/>
<path d="M584.1,528 V525.8" stroke="#3c3c3c" stroke-width="1"/>
<path d="M623.5,528 V525.8" stroke="#3c3c3c" stroke-width="1"/>
<path d="M662.9,528 V525.8" stroke="#3c3c3c" stroke-width="1"/>
<text transform="matrix(1.2160 0 0 1.0054 499.99 547.75)" style="font-family:'Liberation Sans',sans-serif;font-style:normal;font-size:13px" fill="#262626" stroke="#262626" stroke-width="0.2">0</text>
<text transform="matrix(1.2160 0 0 1.0054 539.39 547.75)" style="font-family:'Liberation Sans',sans-serif;font-style:normal;font-size:13px" fill="#262626" stroke="#262626" stroke-width="0.2">2</text>
<text transform="matrix(1.2160 0 0 1.0054 578.79 547.75)" style="font-family:'Liberation Sans',sans-serif;font-style:normal;font-size:13px" fill="#262626" stroke="#262626" stroke-width="0.2">4</text>
<text transform="matrix(1.2160 0 0 1.0054 618.19 547.75)" style="font-family:'Liberation Sans',sans-serif;font-style:normal;font-size:13px" fill="#262626" stroke="#262626" stroke-width="0.2">6</text>
<text transform="matrix(1.2160 0 0 1.0054 657.59 547.75)" style="font-family:'Liberation Sans',sans-serif;font-style:normal;font-size:13px" fill="#262626" stroke="#262626" stroke-width="0.2">8</text>
<text transform="matrix(0.9636 0 0 1.0000 490.44 463.80)" style="font-family:'Liberation Sans',sans-serif;font-style:normal;font-size:13px" fill="#262626" stroke="#262626" stroke-width="0.2">1</text>
<text transform="matrix(1.1588 0 0 1.0378 478.62 497.24)" style="font-family:'Liberation Sans',sans-serif;font-style:normal;font-size:13px" fill="#262626" stroke="#262626" stroke-width="0.2">0.5</text>
<text transform="matrix(1.1040 0 0 1.0378 490.35 532.34)" style="font-family:'Liberation Sans',sans-serif;font-style:normal;font-size:13px" fill="#262626" stroke="#262626" stroke-width="0.2">0</text>
<text transform="matrix(1.0222 0 0 1.1228 570.24 564.95)" style="font-family:'Liberation Sans',sans-serif;font-style:normal;font-size:15px" stroke="#000" stroke-width="0.3">t (s)</text>
<text transform="matrix(1.1059 0 0 0.9965 0.42 493.91)" style="font-family:'Liberation Sans',sans-serif;font-style:normal;font-size:19px" stroke="#000" stroke-width="0.15">p</text>
<text transform="matrix(0.8889 0 0 1.0800 11.21 500.70)" style="font-family:'Liberation Sans',sans-serif;font-style:normal;font-size:11px" stroke="#000" stroke-width="0.15">IE</text>
<path d="M49.9,519.7 109.4,519.7 110.5,512.7 112.3,505.4 115.2,498.1 119.2,493.8 122.5,493.4 124.3,493.6 126.2,492.7 128.4,492.4 130.9,494.1 132.7,493.9 134.9,492.9 137.1,494.1 140.0,492.7 142.2,493.0 144.8,491.4 146.6,491.9 148.4,493.4 149.2,499.6 149.9,514.2 151.7,518.9 155.0,519.7 207.6,519.7" fill="none" stroke="#9b6eaa" stroke-width="1.7" stroke-linejoin="round" />
<path d="M277.4,458.6 336.0,458.7 349.8,459.3 350.5,459.9 362.4,459.5 363.1,467.2 363.7,496.3 364.7,513.5 366.4,518.8 369.7,519.5 435.5,519.6" fill="none" stroke="#9b6eaa" stroke-width="1.7" stroke-linejoin="round" />
<path d="M505.3,458.6 663.5,458.6" fill="none" stroke="#9b6eaa" stroke-width="1.7" stroke-linejoin="round" />
<path d="M110.2,528.1 H148.9" stroke="#48b04b" stroke-width="4"/>
<path d="M336.2,528.1 H376.2" stroke="#48b04b" stroke-width="4"/>
<path d="M567.1,528.1 H605.6" stroke="#48b04b" stroke-width="4"/>
<path d="M184.6,472.9 V501.5" stroke="#48b04b" stroke-width="3"/><path d="M180.2,496.4 L184.6,500.6 L189.0,496.4 L189.0,499.6 L184.6,504.2 L180.2,499.6 Z" fill="#48b04b"/>
<path d="M396.7,504.1 V475.8" stroke="#48b04b" stroke-width="3"/><path d="M392.3,480.9 L396.7,476.7 L401.09999999999997,480.9 L401.09999999999997,477.7 L396.7,473.1 L392.3,477.7 Z" fill="#48b04b"/>
<path d="M626.4,504.1 V475.8" stroke="#48b04b" stroke-width="3"/><path d="M622.0,480.9 L626.4,476.7 L630.8,480.9 L630.8,477.7 L626.4,473.1 L622.0,477.7 Z" fill="#48b04b"/>
</svg>
</body></html>
